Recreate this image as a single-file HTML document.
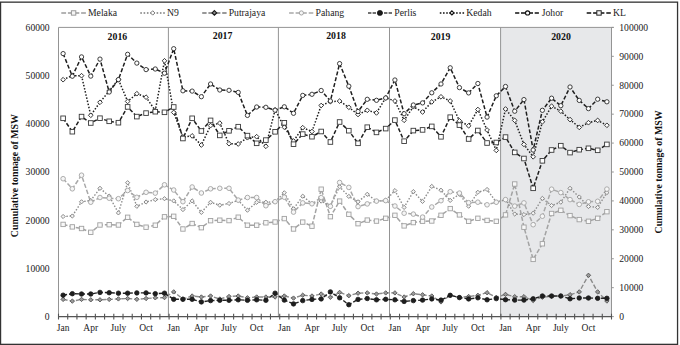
<!DOCTYPE html><html><head><meta charset="utf-8"><style>html,body{margin:0;padding:0;background:#fff;}svg{display:block;font-family:"Liberation Serif", serif;}</style></head><body>
<svg width="680" height="345" viewBox="0 0 680 345">
<rect x="500.60" y="27.4" width="110.90" height="289.20" fill="#e7e8ea"/>
<line x1="58.5" y1="27.4" x2="613.7" y2="27.4" stroke="#949494" stroke-width="1"/>
<line x1="58.5" y1="27.4" x2="58.5" y2="316.6" stroke="#949494" stroke-width="1"/>
<line x1="168.4" y1="27.4" x2="168.4" y2="316.6" stroke="#949494" stroke-width="1"/>
<line x1="278.4" y1="27.4" x2="278.4" y2="316.6" stroke="#949494" stroke-width="1"/>
<line x1="389.5" y1="27.4" x2="389.5" y2="316.6" stroke="#949494" stroke-width="1"/>
<line x1="500.6" y1="27.4" x2="500.6" y2="316.6" stroke="#949494" stroke-width="1"/>
<line x1="611.5" y1="27.4" x2="611.5" y2="316.6" stroke="#949494" stroke-width="1"/>
<line x1="611.5" y1="316.60" x2="613.80" y2="316.60" stroke="#949494" stroke-width="1"/>
<line x1="611.5" y1="287.68" x2="613.80" y2="287.68" stroke="#949494" stroke-width="1"/>
<line x1="611.5" y1="258.76" x2="613.80" y2="258.76" stroke="#949494" stroke-width="1"/>
<line x1="611.5" y1="229.84" x2="613.80" y2="229.84" stroke="#949494" stroke-width="1"/>
<line x1="611.5" y1="200.92" x2="613.80" y2="200.92" stroke="#949494" stroke-width="1"/>
<line x1="611.5" y1="172.00" x2="613.80" y2="172.00" stroke="#949494" stroke-width="1"/>
<line x1="611.5" y1="143.08" x2="613.80" y2="143.08" stroke="#949494" stroke-width="1"/>
<line x1="611.5" y1="114.16" x2="613.80" y2="114.16" stroke="#949494" stroke-width="1"/>
<line x1="611.5" y1="85.24" x2="613.80" y2="85.24" stroke="#949494" stroke-width="1"/>
<line x1="611.5" y1="56.32" x2="613.80" y2="56.32" stroke="#949494" stroke-width="1"/>
<line x1="611.5" y1="27.40" x2="613.80" y2="27.40" stroke="#949494" stroke-width="1"/>
<line x1="58.5" y1="316.6" x2="611.5" y2="316.6" stroke="#555" stroke-width="1.3"/>
<line x1="58.50" y1="313.70" x2="58.50" y2="319.50" stroke="#555" stroke-width="1.1"/>
<line x1="67.72" y1="313.70" x2="67.72" y2="319.50" stroke="#555" stroke-width="1.1"/>
<line x1="76.93" y1="313.70" x2="76.93" y2="319.50" stroke="#555" stroke-width="1.1"/>
<line x1="86.15" y1="313.70" x2="86.15" y2="319.50" stroke="#555" stroke-width="1.1"/>
<line x1="95.37" y1="313.70" x2="95.37" y2="319.50" stroke="#555" stroke-width="1.1"/>
<line x1="104.58" y1="313.70" x2="104.58" y2="319.50" stroke="#555" stroke-width="1.1"/>
<line x1="113.80" y1="313.70" x2="113.80" y2="319.50" stroke="#555" stroke-width="1.1"/>
<line x1="123.02" y1="313.70" x2="123.02" y2="319.50" stroke="#555" stroke-width="1.1"/>
<line x1="132.23" y1="313.70" x2="132.23" y2="319.50" stroke="#555" stroke-width="1.1"/>
<line x1="141.45" y1="313.70" x2="141.45" y2="319.50" stroke="#555" stroke-width="1.1"/>
<line x1="150.67" y1="313.70" x2="150.67" y2="319.50" stroke="#555" stroke-width="1.1"/>
<line x1="159.88" y1="313.70" x2="159.88" y2="319.50" stroke="#555" stroke-width="1.1"/>
<line x1="169.10" y1="313.70" x2="169.10" y2="319.50" stroke="#555" stroke-width="1.1"/>
<line x1="178.32" y1="313.70" x2="178.32" y2="319.50" stroke="#555" stroke-width="1.1"/>
<line x1="187.53" y1="313.70" x2="187.53" y2="319.50" stroke="#555" stroke-width="1.1"/>
<line x1="196.75" y1="313.70" x2="196.75" y2="319.50" stroke="#555" stroke-width="1.1"/>
<line x1="205.97" y1="313.70" x2="205.97" y2="319.50" stroke="#555" stroke-width="1.1"/>
<line x1="215.18" y1="313.70" x2="215.18" y2="319.50" stroke="#555" stroke-width="1.1"/>
<line x1="224.40" y1="313.70" x2="224.40" y2="319.50" stroke="#555" stroke-width="1.1"/>
<line x1="233.62" y1="313.70" x2="233.62" y2="319.50" stroke="#555" stroke-width="1.1"/>
<line x1="242.83" y1="313.70" x2="242.83" y2="319.50" stroke="#555" stroke-width="1.1"/>
<line x1="252.05" y1="313.70" x2="252.05" y2="319.50" stroke="#555" stroke-width="1.1"/>
<line x1="261.27" y1="313.70" x2="261.27" y2="319.50" stroke="#555" stroke-width="1.1"/>
<line x1="270.48" y1="313.70" x2="270.48" y2="319.50" stroke="#555" stroke-width="1.1"/>
<line x1="279.70" y1="313.70" x2="279.70" y2="319.50" stroke="#555" stroke-width="1.1"/>
<line x1="288.92" y1="313.70" x2="288.92" y2="319.50" stroke="#555" stroke-width="1.1"/>
<line x1="298.13" y1="313.70" x2="298.13" y2="319.50" stroke="#555" stroke-width="1.1"/>
<line x1="307.35" y1="313.70" x2="307.35" y2="319.50" stroke="#555" stroke-width="1.1"/>
<line x1="316.57" y1="313.70" x2="316.57" y2="319.50" stroke="#555" stroke-width="1.1"/>
<line x1="325.78" y1="313.70" x2="325.78" y2="319.50" stroke="#555" stroke-width="1.1"/>
<line x1="335.00" y1="313.70" x2="335.00" y2="319.50" stroke="#555" stroke-width="1.1"/>
<line x1="344.22" y1="313.70" x2="344.22" y2="319.50" stroke="#555" stroke-width="1.1"/>
<line x1="353.43" y1="313.70" x2="353.43" y2="319.50" stroke="#555" stroke-width="1.1"/>
<line x1="362.65" y1="313.70" x2="362.65" y2="319.50" stroke="#555" stroke-width="1.1"/>
<line x1="371.87" y1="313.70" x2="371.87" y2="319.50" stroke="#555" stroke-width="1.1"/>
<line x1="381.08" y1="313.70" x2="381.08" y2="319.50" stroke="#555" stroke-width="1.1"/>
<line x1="390.30" y1="313.70" x2="390.30" y2="319.50" stroke="#555" stroke-width="1.1"/>
<line x1="399.52" y1="313.70" x2="399.52" y2="319.50" stroke="#555" stroke-width="1.1"/>
<line x1="408.73" y1="313.70" x2="408.73" y2="319.50" stroke="#555" stroke-width="1.1"/>
<line x1="417.95" y1="313.70" x2="417.95" y2="319.50" stroke="#555" stroke-width="1.1"/>
<line x1="427.17" y1="313.70" x2="427.17" y2="319.50" stroke="#555" stroke-width="1.1"/>
<line x1="436.38" y1="313.70" x2="436.38" y2="319.50" stroke="#555" stroke-width="1.1"/>
<line x1="445.60" y1="313.70" x2="445.60" y2="319.50" stroke="#555" stroke-width="1.1"/>
<line x1="454.82" y1="313.70" x2="454.82" y2="319.50" stroke="#555" stroke-width="1.1"/>
<line x1="464.03" y1="313.70" x2="464.03" y2="319.50" stroke="#555" stroke-width="1.1"/>
<line x1="473.25" y1="313.70" x2="473.25" y2="319.50" stroke="#555" stroke-width="1.1"/>
<line x1="482.47" y1="313.70" x2="482.47" y2="319.50" stroke="#555" stroke-width="1.1"/>
<line x1="491.68" y1="313.70" x2="491.68" y2="319.50" stroke="#555" stroke-width="1.1"/>
<line x1="500.90" y1="313.70" x2="500.90" y2="319.50" stroke="#555" stroke-width="1.1"/>
<line x1="510.12" y1="313.70" x2="510.12" y2="319.50" stroke="#555" stroke-width="1.1"/>
<line x1="519.33" y1="313.70" x2="519.33" y2="319.50" stroke="#555" stroke-width="1.1"/>
<line x1="528.55" y1="313.70" x2="528.55" y2="319.50" stroke="#555" stroke-width="1.1"/>
<line x1="537.77" y1="313.70" x2="537.77" y2="319.50" stroke="#555" stroke-width="1.1"/>
<line x1="546.98" y1="313.70" x2="546.98" y2="319.50" stroke="#555" stroke-width="1.1"/>
<line x1="556.20" y1="313.70" x2="556.20" y2="319.50" stroke="#555" stroke-width="1.1"/>
<line x1="565.42" y1="313.70" x2="565.42" y2="319.50" stroke="#555" stroke-width="1.1"/>
<line x1="574.63" y1="313.70" x2="574.63" y2="319.50" stroke="#555" stroke-width="1.1"/>
<line x1="583.85" y1="313.70" x2="583.85" y2="319.50" stroke="#555" stroke-width="1.1"/>
<line x1="593.07" y1="313.70" x2="593.07" y2="319.50" stroke="#555" stroke-width="1.1"/>
<line x1="602.28" y1="313.70" x2="602.28" y2="319.50" stroke="#555" stroke-width="1.1"/>
<line x1="611.50" y1="313.70" x2="611.50" y2="319.50" stroke="#555" stroke-width="1.1"/>
<path d="M63.11 224.40L72.33 226.90L81.54 228.50L90.76 232.30L99.97 225.00L109.19 224.70L118.41 225.00L127.62 217.30L136.84 224.40L146.06 227.20L155.28 225.20L164.49 216.80L173.71 216.30L182.93 229.00L192.14 223.50L201.36 227.70L210.57 220.70L219.79 220.20L229.01 220.60L238.22 217.20L247.44 225.20L256.66 225.20L265.88 222.80L275.09 222.00L284.31 218.60L293.52 229.00L302.74 222.10L311.96 226.20L321.18 189.20L330.39 216.70L339.61 201.10L348.82 214.30L358.04 223.70L367.26 220.10L376.48 221.10L385.69 218.30L394.91 215.30L404.12 225.90L413.34 222.60L422.56 221.20L431.77 221.00L440.99 215.30L450.21 208.60L459.43 214.90L468.64 221.30L477.86 218.30L487.07 220.40L496.29 221.30L505.51 214.90L514.73 184.00L523.94 227.20L533.16 259.40L542.38 243.80L551.59 213.50L560.81 210.30L570.03 215.60L579.24 219.60L588.46 221.30L597.67 218.30L606.89 211.70" fill="none" stroke="#a3a3a3" stroke-width="1.5" stroke-dasharray="4.5 2"/>
<path d="M63.11 216.50L72.33 216.00L81.54 201.80L90.76 200.50L99.97 188.30L109.19 196.10L118.41 212.90L127.62 182.70L136.84 206.30L146.06 202.00L155.28 199.60L164.49 198.70L173.71 200.90L182.93 209.60L192.14 200.90L201.36 212.40L210.57 202.30L219.79 205.20L229.01 203.50L238.22 200.30L247.44 210.20L256.66 202.30L265.88 202.20L275.09 201.80L284.31 192.80L293.52 208.80L302.74 196.20L311.96 203.70L321.18 201.10L330.39 206.00L339.61 186.80L348.82 196.40L358.04 201.80L367.26 194.30L376.48 201.00L385.69 200.20L394.91 190.60L404.12 207.40L413.34 191.60L422.56 201.40L431.77 186.40L440.99 190.20L450.21 200.40L459.43 194.30L468.64 206.20L477.86 192.30L487.07 189.50L496.29 202.20L505.51 199.80L514.73 214.00L523.94 214.60L533.16 213.20L542.38 198.40L551.59 205.50L560.81 202.20L570.03 188.30L579.24 197.00L588.46 206.50L597.67 207.40L606.89 192.60" fill="none" stroke="#8e8e8e" stroke-width="1.4" stroke-dasharray="1.5 1.7"/>
<path d="M63.11 299.40L72.33 301.10L81.54 299.40L90.76 299.80L99.97 299.80L109.19 299.40L118.41 298.90L127.62 298.50L136.84 299.30L146.06 298.50L155.28 297.80L164.49 297.60L173.71 291.90L182.93 299.00L192.14 296.00L201.36 297.00L210.57 296.00L219.79 299.00L229.01 296.50L238.22 296.00L247.44 297.80L256.66 297.00L265.88 297.00L275.09 297.00L284.31 296.00L293.52 298.10L302.74 295.20L311.96 296.00L321.18 294.00L330.39 297.30L339.61 292.40L348.82 295.70L358.04 293.20L367.26 292.90L376.48 294.00L385.69 292.90L394.91 292.90L404.12 297.00L413.34 293.70L422.56 294.80L431.77 296.00L440.99 301.90L450.21 295.30L459.43 297.30L468.64 296.50L477.86 295.30L487.07 292.70L496.29 297.30L505.51 294.40L514.73 296.70L523.94 296.70L533.16 300.50L542.38 297.20L551.59 296.40L560.81 296.00L570.03 294.70L579.24 291.90L588.46 275.30L597.67 291.90L606.89 301.00" fill="none" stroke="#8a8a8a" stroke-width="1.4" stroke-dasharray="4.5 2"/>
<path d="M63.11 178.70L72.33 188.80L81.54 175.20L90.76 202.20L99.97 197.50L109.19 198.20L118.41 198.70L127.62 190.50L136.84 197.30L146.06 192.30L155.28 193.10L164.49 184.80L173.71 190.00L182.93 201.70L192.14 187.00L201.36 193.00L210.57 188.80L219.79 188.30L229.01 188.30L238.22 200.10L247.44 197.50L256.66 197.50L265.88 205.70L275.09 201.70L284.31 197.20L293.52 212.10L302.74 202.90L311.96 203.80L321.18 197.60L330.39 206.30L339.61 182.50L348.82 187.40L358.04 206.60L367.26 203.90L376.48 201.10L385.69 200.60L394.91 206.00L404.12 213.20L413.34 214.10L422.56 217.10L431.77 207.00L440.99 200.70L450.21 191.70L459.43 193.10L468.64 202.70L477.86 202.20L487.07 204.80L496.29 202.20L505.51 199.60L514.73 206.10L523.94 202.90L533.16 224.70L542.38 216.20L551.59 189.20L560.81 192.60L570.03 199.60L579.24 204.40L588.46 201.80L597.67 201.30L606.89 189.10" fill="none" stroke="#a8a8a8" stroke-width="1.5" stroke-dasharray="4.5 2"/>
<path d="M63.11 295.20L72.33 293.70L81.54 294.00L90.76 294.00L99.97 292.40L109.19 292.70L118.41 293.20L127.62 293.20L136.84 292.90L146.06 292.90L155.28 293.70L164.49 293.20L173.71 299.30L182.93 299.30L192.14 299.30L201.36 301.90L210.57 300.60L219.79 300.30L229.01 300.30L238.22 299.80L247.44 300.30L256.66 299.80L265.88 300.30L275.09 293.20L284.31 300.10L293.52 303.90L302.74 300.60L311.96 299.40L321.18 298.90L330.39 291.90L339.61 297.80L348.82 304.70L358.04 299.40L367.26 298.50L376.48 299.80L385.69 299.30L394.91 299.80L404.12 301.40L413.34 300.60L422.56 300.10L431.77 298.90L440.99 300.10L450.21 295.30L459.43 297.60L468.64 298.90L477.86 297.80L487.07 299.80L496.29 298.60L505.51 299.70L514.73 300.10L523.94 300.10L533.16 298.80L542.38 296.00L551.59 296.00L560.81 296.00L570.03 298.80L579.24 298.00L588.46 298.00L597.67 298.30L606.89 298.30" fill="none" stroke="#222" stroke-width="1.4" stroke-dasharray="4 2"/>
<path d="M63.11 79.70L72.33 75.60L81.54 75.70L90.76 115.30L99.97 102.30L109.19 91.00L118.41 79.50L127.62 101.40L136.84 93.70L146.06 97.20L155.28 110.50L164.49 60.80L173.71 112.40L182.93 137.00L192.14 135.90L201.36 145.00L210.57 125.60L219.79 123.10L229.01 143.70L238.22 144.00L247.44 137.70L256.66 136.70L265.88 146.30L275.09 109.80L284.31 127.20L293.52 141.10L302.74 127.70L311.96 131.50L321.18 105.50L330.39 101.60L339.61 101.10L348.82 107.30L358.04 114.50L367.26 110.30L376.48 112.90L385.69 97.80L394.91 101.00L404.12 120.30L413.34 106.70L422.56 112.00L431.77 101.90L440.99 96.80L450.21 101.00L459.43 120.80L468.64 125.80L477.86 109.50L487.07 130.00L496.29 150.40L505.51 109.00L514.73 120.40L523.94 144.40L533.16 156.80L542.38 121.80L551.59 106.20L560.81 111.20L570.03 119.60L579.24 127.40L588.46 122.70L597.67 120.40L606.89 125.30" fill="none" stroke="#1e1e1e" stroke-width="1.5" stroke-dasharray="1.5 1.7"/>
<path d="M63.11 53.60L72.33 76.20L81.54 56.90L90.76 76.10L99.97 59.10L109.19 92.00L118.41 79.60L127.62 54.30L136.84 63.10L146.06 69.60L155.28 69.00L164.49 73.20L173.71 48.70L182.93 90.80L192.14 91.10L201.36 96.70L210.57 84.00L219.79 90.00L229.01 90.30L238.22 92.40L247.44 115.40L256.66 107.00L265.88 107.30L275.09 110.20L284.31 106.80L293.52 113.30L302.74 95.40L311.96 94.30L321.18 90.50L330.39 101.00L339.61 63.60L348.82 86.20L358.04 111.50L367.26 99.30L376.48 100.30L385.69 98.00L394.91 80.00L404.12 113.70L413.34 105.00L422.56 102.90L431.77 92.80L440.99 84.00L450.21 67.80L459.43 87.60L468.64 92.90L477.86 83.50L487.07 117.10L496.29 95.80L505.51 86.50L514.73 111.20L523.94 99.60L533.16 150.00L542.38 110.30L551.59 98.20L560.81 105.70L570.03 87.00L579.24 100.40L588.46 108.60L597.67 99.20L606.89 101.80" fill="none" stroke="#1e1e1e" stroke-width="1.5" stroke-dasharray="4 2"/>
<path d="M63.11 118.30L72.33 131.70L81.54 116.60L90.76 123.00L99.97 118.20L109.19 121.30L118.41 122.70L127.62 106.90L136.84 116.60L146.06 113.10L155.28 111.70L164.49 112.30L173.71 107.00L182.93 138.50L192.14 118.30L201.36 131.00L210.57 120.40L219.79 135.40L229.01 130.80L238.22 126.70L247.44 135.60L256.66 143.30L265.88 140.10L275.09 131.80L284.31 122.80L293.52 144.20L302.74 134.10L311.96 136.70L321.18 131.50L330.39 142.00L339.61 122.00L348.82 130.70L358.04 143.30L367.26 127.20L376.48 132.40L385.69 128.60L394.91 120.10L404.12 141.20L413.34 130.60L422.56 129.90L431.77 126.40L440.99 136.80L450.21 117.20L459.43 125.10L468.64 139.00L477.86 130.50L487.07 143.00L496.29 142.50L505.51 137.10L514.73 152.40L523.94 158.50L533.16 188.30L542.38 160.80L551.59 150.00L560.81 145.70L570.03 152.60L579.24 149.70L588.46 148.30L597.67 150.30L606.89 144.40" fill="none" stroke="#1e1e1e" stroke-width="1.5" stroke-dasharray="4 2"/>
<rect x="60.91" y="222.20" width="4.40" height="4.40" fill="#f8f8f8" stroke="#a0a0a0" stroke-width="0.9"/>
<rect x="70.12" y="224.70" width="4.40" height="4.40" fill="#f8f8f8" stroke="#a0a0a0" stroke-width="0.9"/>
<rect x="79.34" y="226.30" width="4.40" height="4.40" fill="#f8f8f8" stroke="#a0a0a0" stroke-width="0.9"/>
<rect x="88.56" y="230.10" width="4.40" height="4.40" fill="#f8f8f8" stroke="#a0a0a0" stroke-width="0.9"/>
<rect x="97.77" y="222.80" width="4.40" height="4.40" fill="#f8f8f8" stroke="#a0a0a0" stroke-width="0.9"/>
<rect x="106.99" y="222.50" width="4.40" height="4.40" fill="#f8f8f8" stroke="#a0a0a0" stroke-width="0.9"/>
<rect x="116.21" y="222.80" width="4.40" height="4.40" fill="#f8f8f8" stroke="#a0a0a0" stroke-width="0.9"/>
<rect x="125.42" y="215.10" width="4.40" height="4.40" fill="#f8f8f8" stroke="#a0a0a0" stroke-width="0.9"/>
<rect x="134.64" y="222.20" width="4.40" height="4.40" fill="#f8f8f8" stroke="#a0a0a0" stroke-width="0.9"/>
<rect x="143.86" y="225.00" width="4.40" height="4.40" fill="#f8f8f8" stroke="#a0a0a0" stroke-width="0.9"/>
<rect x="153.08" y="223.00" width="4.40" height="4.40" fill="#f8f8f8" stroke="#a0a0a0" stroke-width="0.9"/>
<rect x="162.29" y="214.60" width="4.40" height="4.40" fill="#f8f8f8" stroke="#a0a0a0" stroke-width="0.9"/>
<rect x="171.51" y="214.10" width="4.40" height="4.40" fill="#f8f8f8" stroke="#a0a0a0" stroke-width="0.9"/>
<rect x="180.73" y="226.80" width="4.40" height="4.40" fill="#f8f8f8" stroke="#a0a0a0" stroke-width="0.9"/>
<rect x="189.94" y="221.30" width="4.40" height="4.40" fill="#f8f8f8" stroke="#a0a0a0" stroke-width="0.9"/>
<rect x="199.16" y="225.50" width="4.40" height="4.40" fill="#f8f8f8" stroke="#a0a0a0" stroke-width="0.9"/>
<rect x="208.38" y="218.50" width="4.40" height="4.40" fill="#f8f8f8" stroke="#a0a0a0" stroke-width="0.9"/>
<rect x="217.59" y="218.00" width="4.40" height="4.40" fill="#f8f8f8" stroke="#a0a0a0" stroke-width="0.9"/>
<rect x="226.81" y="218.40" width="4.40" height="4.40" fill="#f8f8f8" stroke="#a0a0a0" stroke-width="0.9"/>
<rect x="236.03" y="215.00" width="4.40" height="4.40" fill="#f8f8f8" stroke="#a0a0a0" stroke-width="0.9"/>
<rect x="245.24" y="223.00" width="4.40" height="4.40" fill="#f8f8f8" stroke="#a0a0a0" stroke-width="0.9"/>
<rect x="254.46" y="223.00" width="4.40" height="4.40" fill="#f8f8f8" stroke="#a0a0a0" stroke-width="0.9"/>
<rect x="263.68" y="220.60" width="4.40" height="4.40" fill="#f8f8f8" stroke="#a0a0a0" stroke-width="0.9"/>
<rect x="272.89" y="219.80" width="4.40" height="4.40" fill="#f8f8f8" stroke="#a0a0a0" stroke-width="0.9"/>
<rect x="282.11" y="216.40" width="4.40" height="4.40" fill="#f8f8f8" stroke="#a0a0a0" stroke-width="0.9"/>
<rect x="291.32" y="226.80" width="4.40" height="4.40" fill="#f8f8f8" stroke="#a0a0a0" stroke-width="0.9"/>
<rect x="300.54" y="219.90" width="4.40" height="4.40" fill="#f8f8f8" stroke="#a0a0a0" stroke-width="0.9"/>
<rect x="309.76" y="224.00" width="4.40" height="4.40" fill="#f8f8f8" stroke="#a0a0a0" stroke-width="0.9"/>
<rect x="318.98" y="187.00" width="4.40" height="4.40" fill="#f8f8f8" stroke="#a0a0a0" stroke-width="0.9"/>
<rect x="328.19" y="214.50" width="4.40" height="4.40" fill="#f8f8f8" stroke="#a0a0a0" stroke-width="0.9"/>
<rect x="337.41" y="198.90" width="4.40" height="4.40" fill="#f8f8f8" stroke="#a0a0a0" stroke-width="0.9"/>
<rect x="346.62" y="212.10" width="4.40" height="4.40" fill="#f8f8f8" stroke="#a0a0a0" stroke-width="0.9"/>
<rect x="355.84" y="221.50" width="4.40" height="4.40" fill="#f8f8f8" stroke="#a0a0a0" stroke-width="0.9"/>
<rect x="365.06" y="217.90" width="4.40" height="4.40" fill="#f8f8f8" stroke="#a0a0a0" stroke-width="0.9"/>
<rect x="374.28" y="218.90" width="4.40" height="4.40" fill="#f8f8f8" stroke="#a0a0a0" stroke-width="0.9"/>
<rect x="383.49" y="216.10" width="4.40" height="4.40" fill="#f8f8f8" stroke="#a0a0a0" stroke-width="0.9"/>
<rect x="392.71" y="213.10" width="4.40" height="4.40" fill="#f8f8f8" stroke="#a0a0a0" stroke-width="0.9"/>
<rect x="401.93" y="223.70" width="4.40" height="4.40" fill="#f8f8f8" stroke="#a0a0a0" stroke-width="0.9"/>
<rect x="411.14" y="220.40" width="4.40" height="4.40" fill="#f8f8f8" stroke="#a0a0a0" stroke-width="0.9"/>
<rect x="420.36" y="219.00" width="4.40" height="4.40" fill="#f8f8f8" stroke="#a0a0a0" stroke-width="0.9"/>
<rect x="429.57" y="218.80" width="4.40" height="4.40" fill="#f8f8f8" stroke="#a0a0a0" stroke-width="0.9"/>
<rect x="438.79" y="213.10" width="4.40" height="4.40" fill="#f8f8f8" stroke="#a0a0a0" stroke-width="0.9"/>
<rect x="448.01" y="206.40" width="4.40" height="4.40" fill="#f8f8f8" stroke="#a0a0a0" stroke-width="0.9"/>
<rect x="457.23" y="212.70" width="4.40" height="4.40" fill="#f8f8f8" stroke="#a0a0a0" stroke-width="0.9"/>
<rect x="466.44" y="219.10" width="4.40" height="4.40" fill="#f8f8f8" stroke="#a0a0a0" stroke-width="0.9"/>
<rect x="475.66" y="216.10" width="4.40" height="4.40" fill="#f8f8f8" stroke="#a0a0a0" stroke-width="0.9"/>
<rect x="484.88" y="218.20" width="4.40" height="4.40" fill="#f8f8f8" stroke="#a0a0a0" stroke-width="0.9"/>
<rect x="494.09" y="219.10" width="4.40" height="4.40" fill="#f8f8f8" stroke="#a0a0a0" stroke-width="0.9"/>
<rect x="503.31" y="212.70" width="4.40" height="4.40" fill="#f8f8f8" stroke="#a0a0a0" stroke-width="0.9"/>
<rect x="512.52" y="181.80" width="4.40" height="4.40" fill="#f8f8f8" stroke="#a0a0a0" stroke-width="0.9"/>
<rect x="521.74" y="225.00" width="4.40" height="4.40" fill="#f8f8f8" stroke="#a0a0a0" stroke-width="0.9"/>
<rect x="530.96" y="257.20" width="4.40" height="4.40" fill="#f8f8f8" stroke="#a0a0a0" stroke-width="0.9"/>
<rect x="540.17" y="241.60" width="4.40" height="4.40" fill="#f8f8f8" stroke="#a0a0a0" stroke-width="0.9"/>
<rect x="549.39" y="211.30" width="4.40" height="4.40" fill="#f8f8f8" stroke="#a0a0a0" stroke-width="0.9"/>
<rect x="558.61" y="208.10" width="4.40" height="4.40" fill="#f8f8f8" stroke="#a0a0a0" stroke-width="0.9"/>
<rect x="567.83" y="213.40" width="4.40" height="4.40" fill="#f8f8f8" stroke="#a0a0a0" stroke-width="0.9"/>
<rect x="577.04" y="217.40" width="4.40" height="4.40" fill="#f8f8f8" stroke="#a0a0a0" stroke-width="0.9"/>
<rect x="586.26" y="219.10" width="4.40" height="4.40" fill="#f8f8f8" stroke="#a0a0a0" stroke-width="0.9"/>
<rect x="595.47" y="216.10" width="4.40" height="4.40" fill="#f8f8f8" stroke="#a0a0a0" stroke-width="0.9"/>
<rect x="604.69" y="209.50" width="4.40" height="4.40" fill="#f8f8f8" stroke="#a0a0a0" stroke-width="0.9"/>
<path d="M63.11 214.40L65.21 216.50L63.11 218.60L61.01 216.50Z" fill="#f4f4f4" stroke="#7e7e7e" stroke-width="0.9"/>
<path d="M72.33 213.90L74.42 216.00L72.33 218.10L70.23 216.00Z" fill="#f4f4f4" stroke="#7e7e7e" stroke-width="0.9"/>
<path d="M81.54 199.70L83.64 201.80L81.54 203.90L79.44 201.80Z" fill="#f4f4f4" stroke="#7e7e7e" stroke-width="0.9"/>
<path d="M90.76 198.40L92.86 200.50L90.76 202.60L88.66 200.50Z" fill="#f4f4f4" stroke="#7e7e7e" stroke-width="0.9"/>
<path d="M99.97 186.20L102.07 188.30L99.97 190.40L97.88 188.30Z" fill="#f4f4f4" stroke="#7e7e7e" stroke-width="0.9"/>
<path d="M109.19 194.00L111.29 196.10L109.19 198.20L107.09 196.10Z" fill="#f4f4f4" stroke="#7e7e7e" stroke-width="0.9"/>
<path d="M118.41 210.80L120.51 212.90L118.41 215.00L116.31 212.90Z" fill="#f4f4f4" stroke="#7e7e7e" stroke-width="0.9"/>
<path d="M127.62 180.60L129.72 182.70L127.62 184.80L125.53 182.70Z" fill="#f4f4f4" stroke="#7e7e7e" stroke-width="0.9"/>
<path d="M136.84 204.20L138.94 206.30L136.84 208.40L134.74 206.30Z" fill="#f4f4f4" stroke="#7e7e7e" stroke-width="0.9"/>
<path d="M146.06 199.90L148.16 202.00L146.06 204.10L143.96 202.00Z" fill="#f4f4f4" stroke="#7e7e7e" stroke-width="0.9"/>
<path d="M155.28 197.50L157.38 199.60L155.28 201.70L153.18 199.60Z" fill="#f4f4f4" stroke="#7e7e7e" stroke-width="0.9"/>
<path d="M164.49 196.60L166.59 198.70L164.49 200.80L162.39 198.70Z" fill="#f4f4f4" stroke="#7e7e7e" stroke-width="0.9"/>
<path d="M173.71 198.80L175.81 200.90L173.71 203.00L171.61 200.90Z" fill="#f4f4f4" stroke="#7e7e7e" stroke-width="0.9"/>
<path d="M182.93 207.50L185.03 209.60L182.93 211.70L180.83 209.60Z" fill="#f4f4f4" stroke="#7e7e7e" stroke-width="0.9"/>
<path d="M192.14 198.80L194.24 200.90L192.14 203.00L190.04 200.90Z" fill="#f4f4f4" stroke="#7e7e7e" stroke-width="0.9"/>
<path d="M201.36 210.30L203.46 212.40L201.36 214.50L199.26 212.40Z" fill="#f4f4f4" stroke="#7e7e7e" stroke-width="0.9"/>
<path d="M210.57 200.20L212.67 202.30L210.57 204.40L208.47 202.30Z" fill="#f4f4f4" stroke="#7e7e7e" stroke-width="0.9"/>
<path d="M219.79 203.10L221.89 205.20L219.79 207.30L217.69 205.20Z" fill="#f4f4f4" stroke="#7e7e7e" stroke-width="0.9"/>
<path d="M229.01 201.40L231.11 203.50L229.01 205.60L226.91 203.50Z" fill="#f4f4f4" stroke="#7e7e7e" stroke-width="0.9"/>
<path d="M238.22 198.20L240.32 200.30L238.22 202.40L236.12 200.30Z" fill="#f4f4f4" stroke="#7e7e7e" stroke-width="0.9"/>
<path d="M247.44 208.10L249.54 210.20L247.44 212.30L245.34 210.20Z" fill="#f4f4f4" stroke="#7e7e7e" stroke-width="0.9"/>
<path d="M256.66 200.20L258.76 202.30L256.66 204.40L254.56 202.30Z" fill="#f4f4f4" stroke="#7e7e7e" stroke-width="0.9"/>
<path d="M265.88 200.10L267.98 202.20L265.88 204.30L263.77 202.20Z" fill="#f4f4f4" stroke="#7e7e7e" stroke-width="0.9"/>
<path d="M275.09 199.70L277.19 201.80L275.09 203.90L272.99 201.80Z" fill="#f4f4f4" stroke="#7e7e7e" stroke-width="0.9"/>
<path d="M284.31 190.70L286.41 192.80L284.31 194.90L282.21 192.80Z" fill="#f4f4f4" stroke="#7e7e7e" stroke-width="0.9"/>
<path d="M293.52 206.70L295.62 208.80L293.52 210.90L291.42 208.80Z" fill="#f4f4f4" stroke="#7e7e7e" stroke-width="0.9"/>
<path d="M302.74 194.10L304.84 196.20L302.74 198.30L300.64 196.20Z" fill="#f4f4f4" stroke="#7e7e7e" stroke-width="0.9"/>
<path d="M311.96 201.60L314.06 203.70L311.96 205.80L309.86 203.70Z" fill="#f4f4f4" stroke="#7e7e7e" stroke-width="0.9"/>
<path d="M321.18 199.00L323.28 201.10L321.18 203.20L319.07 201.10Z" fill="#f4f4f4" stroke="#7e7e7e" stroke-width="0.9"/>
<path d="M330.39 203.90L332.49 206.00L330.39 208.10L328.29 206.00Z" fill="#f4f4f4" stroke="#7e7e7e" stroke-width="0.9"/>
<path d="M339.61 184.70L341.71 186.80L339.61 188.90L337.51 186.80Z" fill="#f4f4f4" stroke="#7e7e7e" stroke-width="0.9"/>
<path d="M348.82 194.30L350.93 196.40L348.82 198.50L346.72 196.40Z" fill="#f4f4f4" stroke="#7e7e7e" stroke-width="0.9"/>
<path d="M358.04 199.70L360.14 201.80L358.04 203.90L355.94 201.80Z" fill="#f4f4f4" stroke="#7e7e7e" stroke-width="0.9"/>
<path d="M367.26 192.20L369.36 194.30L367.26 196.40L365.16 194.30Z" fill="#f4f4f4" stroke="#7e7e7e" stroke-width="0.9"/>
<path d="M376.48 198.90L378.58 201.00L376.48 203.10L374.38 201.00Z" fill="#f4f4f4" stroke="#7e7e7e" stroke-width="0.9"/>
<path d="M385.69 198.10L387.79 200.20L385.69 202.30L383.59 200.20Z" fill="#f4f4f4" stroke="#7e7e7e" stroke-width="0.9"/>
<path d="M394.91 188.50L397.01 190.60L394.91 192.70L392.81 190.60Z" fill="#f4f4f4" stroke="#7e7e7e" stroke-width="0.9"/>
<path d="M404.12 205.30L406.23 207.40L404.12 209.50L402.02 207.40Z" fill="#f4f4f4" stroke="#7e7e7e" stroke-width="0.9"/>
<path d="M413.34 189.50L415.44 191.60L413.34 193.70L411.24 191.60Z" fill="#f4f4f4" stroke="#7e7e7e" stroke-width="0.9"/>
<path d="M422.56 199.30L424.66 201.40L422.56 203.50L420.46 201.40Z" fill="#f4f4f4" stroke="#7e7e7e" stroke-width="0.9"/>
<path d="M431.77 184.30L433.88 186.40L431.77 188.50L429.67 186.40Z" fill="#f4f4f4" stroke="#7e7e7e" stroke-width="0.9"/>
<path d="M440.99 188.10L443.09 190.20L440.99 192.30L438.89 190.20Z" fill="#f4f4f4" stroke="#7e7e7e" stroke-width="0.9"/>
<path d="M450.21 198.30L452.31 200.40L450.21 202.50L448.11 200.40Z" fill="#f4f4f4" stroke="#7e7e7e" stroke-width="0.9"/>
<path d="M459.43 192.20L461.53 194.30L459.43 196.40L457.32 194.30Z" fill="#f4f4f4" stroke="#7e7e7e" stroke-width="0.9"/>
<path d="M468.64 204.10L470.74 206.20L468.64 208.30L466.54 206.20Z" fill="#f4f4f4" stroke="#7e7e7e" stroke-width="0.9"/>
<path d="M477.86 190.20L479.96 192.30L477.86 194.40L475.76 192.30Z" fill="#f4f4f4" stroke="#7e7e7e" stroke-width="0.9"/>
<path d="M487.07 187.40L489.18 189.50L487.07 191.60L484.97 189.50Z" fill="#f4f4f4" stroke="#7e7e7e" stroke-width="0.9"/>
<path d="M496.29 200.10L498.39 202.20L496.29 204.30L494.19 202.20Z" fill="#f4f4f4" stroke="#7e7e7e" stroke-width="0.9"/>
<path d="M505.51 197.70L507.61 199.80L505.51 201.90L503.41 199.80Z" fill="#f4f4f4" stroke="#7e7e7e" stroke-width="0.9"/>
<path d="M514.73 211.90L516.83 214.00L514.73 216.10L512.62 214.00Z" fill="#f4f4f4" stroke="#7e7e7e" stroke-width="0.9"/>
<path d="M523.94 212.50L526.04 214.60L523.94 216.70L521.84 214.60Z" fill="#f4f4f4" stroke="#7e7e7e" stroke-width="0.9"/>
<path d="M533.16 211.10L535.26 213.20L533.16 215.30L531.06 213.20Z" fill="#f4f4f4" stroke="#7e7e7e" stroke-width="0.9"/>
<path d="M542.38 196.30L544.48 198.40L542.38 200.50L540.27 198.40Z" fill="#f4f4f4" stroke="#7e7e7e" stroke-width="0.9"/>
<path d="M551.59 203.40L553.69 205.50L551.59 207.60L549.49 205.50Z" fill="#f4f4f4" stroke="#7e7e7e" stroke-width="0.9"/>
<path d="M560.81 200.10L562.91 202.20L560.81 204.30L558.71 202.20Z" fill="#f4f4f4" stroke="#7e7e7e" stroke-width="0.9"/>
<path d="M570.03 186.20L572.13 188.30L570.03 190.40L567.93 188.30Z" fill="#f4f4f4" stroke="#7e7e7e" stroke-width="0.9"/>
<path d="M579.24 194.90L581.34 197.00L579.24 199.10L577.14 197.00Z" fill="#f4f4f4" stroke="#7e7e7e" stroke-width="0.9"/>
<path d="M588.46 204.40L590.56 206.50L588.46 208.60L586.36 206.50Z" fill="#f4f4f4" stroke="#7e7e7e" stroke-width="0.9"/>
<path d="M597.67 205.30L599.77 207.40L597.67 209.50L595.57 207.40Z" fill="#f4f4f4" stroke="#7e7e7e" stroke-width="0.9"/>
<path d="M606.89 190.50L608.99 192.60L606.89 194.70L604.79 192.60Z" fill="#f4f4f4" stroke="#7e7e7e" stroke-width="0.9"/>
<path d="M63.11 297.20L65.31 299.40L63.11 301.60L60.91 299.40Z" fill="#9a9a9a" stroke="#555" stroke-width="0.9"/>
<path d="M72.33 298.90L74.53 301.10L72.33 303.30L70.12 301.10Z" fill="#9a9a9a" stroke="#555" stroke-width="0.9"/>
<path d="M81.54 297.20L83.74 299.40L81.54 301.60L79.34 299.40Z" fill="#9a9a9a" stroke="#555" stroke-width="0.9"/>
<path d="M90.76 297.60L92.96 299.80L90.76 302.00L88.56 299.80Z" fill="#9a9a9a" stroke="#555" stroke-width="0.9"/>
<path d="M99.97 297.60L102.17 299.80L99.97 302.00L97.77 299.80Z" fill="#9a9a9a" stroke="#555" stroke-width="0.9"/>
<path d="M109.19 297.20L111.39 299.40L109.19 301.60L106.99 299.40Z" fill="#9a9a9a" stroke="#555" stroke-width="0.9"/>
<path d="M118.41 296.70L120.61 298.90L118.41 301.10L116.21 298.90Z" fill="#9a9a9a" stroke="#555" stroke-width="0.9"/>
<path d="M127.62 296.30L129.82 298.50L127.62 300.70L125.42 298.50Z" fill="#9a9a9a" stroke="#555" stroke-width="0.9"/>
<path d="M136.84 297.10L139.04 299.30L136.84 301.50L134.64 299.30Z" fill="#9a9a9a" stroke="#555" stroke-width="0.9"/>
<path d="M146.06 296.30L148.26 298.50L146.06 300.70L143.86 298.50Z" fill="#9a9a9a" stroke="#555" stroke-width="0.9"/>
<path d="M155.28 295.60L157.47 297.80L155.28 300.00L153.08 297.80Z" fill="#9a9a9a" stroke="#555" stroke-width="0.9"/>
<path d="M164.49 295.40L166.69 297.60L164.49 299.80L162.29 297.60Z" fill="#9a9a9a" stroke="#555" stroke-width="0.9"/>
<path d="M173.71 289.70L175.91 291.90L173.71 294.10L171.51 291.90Z" fill="#9a9a9a" stroke="#555" stroke-width="0.9"/>
<path d="M182.93 296.80L185.12 299.00L182.93 301.20L180.73 299.00Z" fill="#9a9a9a" stroke="#555" stroke-width="0.9"/>
<path d="M192.14 293.80L194.34 296.00L192.14 298.20L189.94 296.00Z" fill="#9a9a9a" stroke="#555" stroke-width="0.9"/>
<path d="M201.36 294.80L203.56 297.00L201.36 299.20L199.16 297.00Z" fill="#9a9a9a" stroke="#555" stroke-width="0.9"/>
<path d="M210.57 293.80L212.77 296.00L210.57 298.20L208.38 296.00Z" fill="#9a9a9a" stroke="#555" stroke-width="0.9"/>
<path d="M219.79 296.80L221.99 299.00L219.79 301.20L217.59 299.00Z" fill="#9a9a9a" stroke="#555" stroke-width="0.9"/>
<path d="M229.01 294.30L231.21 296.50L229.01 298.70L226.81 296.50Z" fill="#9a9a9a" stroke="#555" stroke-width="0.9"/>
<path d="M238.22 293.80L240.42 296.00L238.22 298.20L236.03 296.00Z" fill="#9a9a9a" stroke="#555" stroke-width="0.9"/>
<path d="M247.44 295.60L249.64 297.80L247.44 300.00L245.24 297.80Z" fill="#9a9a9a" stroke="#555" stroke-width="0.9"/>
<path d="M256.66 294.80L258.86 297.00L256.66 299.20L254.46 297.00Z" fill="#9a9a9a" stroke="#555" stroke-width="0.9"/>
<path d="M265.88 294.80L268.07 297.00L265.88 299.20L263.68 297.00Z" fill="#9a9a9a" stroke="#555" stroke-width="0.9"/>
<path d="M275.09 294.80L277.29 297.00L275.09 299.20L272.89 297.00Z" fill="#9a9a9a" stroke="#555" stroke-width="0.9"/>
<path d="M284.31 293.80L286.51 296.00L284.31 298.20L282.11 296.00Z" fill="#9a9a9a" stroke="#555" stroke-width="0.9"/>
<path d="M293.52 295.90L295.72 298.10L293.52 300.30L291.32 298.10Z" fill="#9a9a9a" stroke="#555" stroke-width="0.9"/>
<path d="M302.74 293.00L304.94 295.20L302.74 297.40L300.54 295.20Z" fill="#9a9a9a" stroke="#555" stroke-width="0.9"/>
<path d="M311.96 293.80L314.16 296.00L311.96 298.20L309.76 296.00Z" fill="#9a9a9a" stroke="#555" stroke-width="0.9"/>
<path d="M321.18 291.80L323.38 294.00L321.18 296.20L318.98 294.00Z" fill="#9a9a9a" stroke="#555" stroke-width="0.9"/>
<path d="M330.39 295.10L332.59 297.30L330.39 299.50L328.19 297.30Z" fill="#9a9a9a" stroke="#555" stroke-width="0.9"/>
<path d="M339.61 290.20L341.81 292.40L339.61 294.60L337.41 292.40Z" fill="#9a9a9a" stroke="#555" stroke-width="0.9"/>
<path d="M348.82 293.50L351.02 295.70L348.82 297.90L346.62 295.70Z" fill="#9a9a9a" stroke="#555" stroke-width="0.9"/>
<path d="M358.04 291.00L360.24 293.20L358.04 295.40L355.84 293.20Z" fill="#9a9a9a" stroke="#555" stroke-width="0.9"/>
<path d="M367.26 290.70L369.46 292.90L367.26 295.10L365.06 292.90Z" fill="#9a9a9a" stroke="#555" stroke-width="0.9"/>
<path d="M376.48 291.80L378.68 294.00L376.48 296.20L374.28 294.00Z" fill="#9a9a9a" stroke="#555" stroke-width="0.9"/>
<path d="M385.69 290.70L387.89 292.90L385.69 295.10L383.49 292.90Z" fill="#9a9a9a" stroke="#555" stroke-width="0.9"/>
<path d="M394.91 290.70L397.11 292.90L394.91 295.10L392.71 292.90Z" fill="#9a9a9a" stroke="#555" stroke-width="0.9"/>
<path d="M404.12 294.80L406.32 297.00L404.12 299.20L401.93 297.00Z" fill="#9a9a9a" stroke="#555" stroke-width="0.9"/>
<path d="M413.34 291.50L415.54 293.70L413.34 295.90L411.14 293.70Z" fill="#9a9a9a" stroke="#555" stroke-width="0.9"/>
<path d="M422.56 292.60L424.76 294.80L422.56 297.00L420.36 294.80Z" fill="#9a9a9a" stroke="#555" stroke-width="0.9"/>
<path d="M431.77 293.80L433.97 296.00L431.77 298.20L429.57 296.00Z" fill="#9a9a9a" stroke="#555" stroke-width="0.9"/>
<path d="M440.99 299.70L443.19 301.90L440.99 304.10L438.79 301.90Z" fill="#9a9a9a" stroke="#555" stroke-width="0.9"/>
<path d="M450.21 293.10L452.41 295.30L450.21 297.50L448.01 295.30Z" fill="#9a9a9a" stroke="#555" stroke-width="0.9"/>
<path d="M459.43 295.10L461.62 297.30L459.43 299.50L457.23 297.30Z" fill="#9a9a9a" stroke="#555" stroke-width="0.9"/>
<path d="M468.64 294.30L470.84 296.50L468.64 298.70L466.44 296.50Z" fill="#9a9a9a" stroke="#555" stroke-width="0.9"/>
<path d="M477.86 293.10L480.06 295.30L477.86 297.50L475.66 295.30Z" fill="#9a9a9a" stroke="#555" stroke-width="0.9"/>
<path d="M487.07 290.50L489.27 292.70L487.07 294.90L484.88 292.70Z" fill="#9a9a9a" stroke="#555" stroke-width="0.9"/>
<path d="M496.29 295.10L498.49 297.30L496.29 299.50L494.09 297.30Z" fill="#9a9a9a" stroke="#555" stroke-width="0.9"/>
<path d="M505.51 292.20L507.71 294.40L505.51 296.60L503.31 294.40Z" fill="#9a9a9a" stroke="#555" stroke-width="0.9"/>
<path d="M514.73 294.50L516.93 296.70L514.73 298.90L512.52 296.70Z" fill="#9a9a9a" stroke="#555" stroke-width="0.9"/>
<path d="M523.94 294.50L526.14 296.70L523.94 298.90L521.74 296.70Z" fill="#9a9a9a" stroke="#555" stroke-width="0.9"/>
<path d="M533.16 298.30L535.36 300.50L533.16 302.70L530.96 300.50Z" fill="#9a9a9a" stroke="#555" stroke-width="0.9"/>
<path d="M542.38 295.00L544.58 297.20L542.38 299.40L540.17 297.20Z" fill="#9a9a9a" stroke="#555" stroke-width="0.9"/>
<path d="M551.59 294.20L553.79 296.40L551.59 298.60L549.39 296.40Z" fill="#9a9a9a" stroke="#555" stroke-width="0.9"/>
<path d="M560.81 293.80L563.01 296.00L560.81 298.20L558.61 296.00Z" fill="#9a9a9a" stroke="#555" stroke-width="0.9"/>
<path d="M570.03 292.50L572.23 294.70L570.03 296.90L567.83 294.70Z" fill="#9a9a9a" stroke="#555" stroke-width="0.9"/>
<path d="M579.24 289.70L581.44 291.90L579.24 294.10L577.04 291.90Z" fill="#9a9a9a" stroke="#555" stroke-width="0.9"/>
<path d="M588.46 273.10L590.66 275.30L588.46 277.50L586.26 275.30Z" fill="#9a9a9a" stroke="#555" stroke-width="0.9"/>
<path d="M597.67 289.70L599.88 291.90L597.67 294.10L595.47 291.90Z" fill="#9a9a9a" stroke="#555" stroke-width="0.9"/>
<path d="M606.89 298.80L609.09 301.00L606.89 303.20L604.69 301.00Z" fill="#9a9a9a" stroke="#555" stroke-width="0.9"/>
<circle cx="63.11" cy="178.70" r="2.30" fill="#f6f6f6" stroke="#a4a4a4" stroke-width="0.9"/>
<circle cx="72.33" cy="188.80" r="2.30" fill="#f6f6f6" stroke="#a4a4a4" stroke-width="0.9"/>
<circle cx="81.54" cy="175.20" r="2.30" fill="#f6f6f6" stroke="#a4a4a4" stroke-width="0.9"/>
<circle cx="90.76" cy="202.20" r="2.30" fill="#f6f6f6" stroke="#a4a4a4" stroke-width="0.9"/>
<circle cx="99.97" cy="197.50" r="2.30" fill="#f6f6f6" stroke="#a4a4a4" stroke-width="0.9"/>
<circle cx="109.19" cy="198.20" r="2.30" fill="#f6f6f6" stroke="#a4a4a4" stroke-width="0.9"/>
<circle cx="118.41" cy="198.70" r="2.30" fill="#f6f6f6" stroke="#a4a4a4" stroke-width="0.9"/>
<circle cx="127.62" cy="190.50" r="2.30" fill="#f6f6f6" stroke="#a4a4a4" stroke-width="0.9"/>
<circle cx="136.84" cy="197.30" r="2.30" fill="#f6f6f6" stroke="#a4a4a4" stroke-width="0.9"/>
<circle cx="146.06" cy="192.30" r="2.30" fill="#f6f6f6" stroke="#a4a4a4" stroke-width="0.9"/>
<circle cx="155.28" cy="193.10" r="2.30" fill="#f6f6f6" stroke="#a4a4a4" stroke-width="0.9"/>
<circle cx="164.49" cy="184.80" r="2.30" fill="#f6f6f6" stroke="#a4a4a4" stroke-width="0.9"/>
<circle cx="173.71" cy="190.00" r="2.30" fill="#f6f6f6" stroke="#a4a4a4" stroke-width="0.9"/>
<circle cx="182.93" cy="201.70" r="2.30" fill="#f6f6f6" stroke="#a4a4a4" stroke-width="0.9"/>
<circle cx="192.14" cy="187.00" r="2.30" fill="#f6f6f6" stroke="#a4a4a4" stroke-width="0.9"/>
<circle cx="201.36" cy="193.00" r="2.30" fill="#f6f6f6" stroke="#a4a4a4" stroke-width="0.9"/>
<circle cx="210.57" cy="188.80" r="2.30" fill="#f6f6f6" stroke="#a4a4a4" stroke-width="0.9"/>
<circle cx="219.79" cy="188.30" r="2.30" fill="#f6f6f6" stroke="#a4a4a4" stroke-width="0.9"/>
<circle cx="229.01" cy="188.30" r="2.30" fill="#f6f6f6" stroke="#a4a4a4" stroke-width="0.9"/>
<circle cx="238.22" cy="200.10" r="2.30" fill="#f6f6f6" stroke="#a4a4a4" stroke-width="0.9"/>
<circle cx="247.44" cy="197.50" r="2.30" fill="#f6f6f6" stroke="#a4a4a4" stroke-width="0.9"/>
<circle cx="256.66" cy="197.50" r="2.30" fill="#f6f6f6" stroke="#a4a4a4" stroke-width="0.9"/>
<circle cx="265.88" cy="205.70" r="2.30" fill="#f6f6f6" stroke="#a4a4a4" stroke-width="0.9"/>
<circle cx="275.09" cy="201.70" r="2.30" fill="#f6f6f6" stroke="#a4a4a4" stroke-width="0.9"/>
<circle cx="284.31" cy="197.20" r="2.30" fill="#f6f6f6" stroke="#a4a4a4" stroke-width="0.9"/>
<circle cx="293.52" cy="212.10" r="2.30" fill="#f6f6f6" stroke="#a4a4a4" stroke-width="0.9"/>
<circle cx="302.74" cy="202.90" r="2.30" fill="#f6f6f6" stroke="#a4a4a4" stroke-width="0.9"/>
<circle cx="311.96" cy="203.80" r="2.30" fill="#f6f6f6" stroke="#a4a4a4" stroke-width="0.9"/>
<circle cx="321.18" cy="197.60" r="2.30" fill="#f6f6f6" stroke="#a4a4a4" stroke-width="0.9"/>
<circle cx="330.39" cy="206.30" r="2.30" fill="#f6f6f6" stroke="#a4a4a4" stroke-width="0.9"/>
<circle cx="339.61" cy="182.50" r="2.30" fill="#f6f6f6" stroke="#a4a4a4" stroke-width="0.9"/>
<circle cx="348.82" cy="187.40" r="2.30" fill="#f6f6f6" stroke="#a4a4a4" stroke-width="0.9"/>
<circle cx="358.04" cy="206.60" r="2.30" fill="#f6f6f6" stroke="#a4a4a4" stroke-width="0.9"/>
<circle cx="367.26" cy="203.90" r="2.30" fill="#f6f6f6" stroke="#a4a4a4" stroke-width="0.9"/>
<circle cx="376.48" cy="201.10" r="2.30" fill="#f6f6f6" stroke="#a4a4a4" stroke-width="0.9"/>
<circle cx="385.69" cy="200.60" r="2.30" fill="#f6f6f6" stroke="#a4a4a4" stroke-width="0.9"/>
<circle cx="394.91" cy="206.00" r="2.30" fill="#f6f6f6" stroke="#a4a4a4" stroke-width="0.9"/>
<circle cx="404.12" cy="213.20" r="2.30" fill="#f6f6f6" stroke="#a4a4a4" stroke-width="0.9"/>
<circle cx="413.34" cy="214.10" r="2.30" fill="#f6f6f6" stroke="#a4a4a4" stroke-width="0.9"/>
<circle cx="422.56" cy="217.10" r="2.30" fill="#f6f6f6" stroke="#a4a4a4" stroke-width="0.9"/>
<circle cx="431.77" cy="207.00" r="2.30" fill="#f6f6f6" stroke="#a4a4a4" stroke-width="0.9"/>
<circle cx="440.99" cy="200.70" r="2.30" fill="#f6f6f6" stroke="#a4a4a4" stroke-width="0.9"/>
<circle cx="450.21" cy="191.70" r="2.30" fill="#f6f6f6" stroke="#a4a4a4" stroke-width="0.9"/>
<circle cx="459.43" cy="193.10" r="2.30" fill="#f6f6f6" stroke="#a4a4a4" stroke-width="0.9"/>
<circle cx="468.64" cy="202.70" r="2.30" fill="#f6f6f6" stroke="#a4a4a4" stroke-width="0.9"/>
<circle cx="477.86" cy="202.20" r="2.30" fill="#f6f6f6" stroke="#a4a4a4" stroke-width="0.9"/>
<circle cx="487.07" cy="204.80" r="2.30" fill="#f6f6f6" stroke="#a4a4a4" stroke-width="0.9"/>
<circle cx="496.29" cy="202.20" r="2.30" fill="#f6f6f6" stroke="#a4a4a4" stroke-width="0.9"/>
<circle cx="505.51" cy="199.60" r="2.30" fill="#f6f6f6" stroke="#a4a4a4" stroke-width="0.9"/>
<circle cx="514.73" cy="206.10" r="2.30" fill="#f6f6f6" stroke="#a4a4a4" stroke-width="0.9"/>
<circle cx="523.94" cy="202.90" r="2.30" fill="#f6f6f6" stroke="#a4a4a4" stroke-width="0.9"/>
<circle cx="533.16" cy="224.70" r="2.30" fill="#f6f6f6" stroke="#a4a4a4" stroke-width="0.9"/>
<circle cx="542.38" cy="216.20" r="2.30" fill="#f6f6f6" stroke="#a4a4a4" stroke-width="0.9"/>
<circle cx="551.59" cy="189.20" r="2.30" fill="#f6f6f6" stroke="#a4a4a4" stroke-width="0.9"/>
<circle cx="560.81" cy="192.60" r="2.30" fill="#f6f6f6" stroke="#a4a4a4" stroke-width="0.9"/>
<circle cx="570.03" cy="199.60" r="2.30" fill="#f6f6f6" stroke="#a4a4a4" stroke-width="0.9"/>
<circle cx="579.24" cy="204.40" r="2.30" fill="#f6f6f6" stroke="#a4a4a4" stroke-width="0.9"/>
<circle cx="588.46" cy="201.80" r="2.30" fill="#f6f6f6" stroke="#a4a4a4" stroke-width="0.9"/>
<circle cx="597.67" cy="201.30" r="2.30" fill="#f6f6f6" stroke="#a4a4a4" stroke-width="0.9"/>
<circle cx="606.89" cy="189.10" r="2.30" fill="#f6f6f6" stroke="#a4a4a4" stroke-width="0.9"/>
<circle cx="63.11" cy="295.20" r="2.25" fill="#1e1e1e" stroke="#1a1a1a" stroke-width="0.8"/>
<circle cx="72.33" cy="293.70" r="2.25" fill="#1e1e1e" stroke="#1a1a1a" stroke-width="0.8"/>
<circle cx="81.54" cy="294.00" r="2.25" fill="#1e1e1e" stroke="#1a1a1a" stroke-width="0.8"/>
<circle cx="90.76" cy="294.00" r="2.25" fill="#1e1e1e" stroke="#1a1a1a" stroke-width="0.8"/>
<circle cx="99.97" cy="292.40" r="2.25" fill="#1e1e1e" stroke="#1a1a1a" stroke-width="0.8"/>
<circle cx="109.19" cy="292.70" r="2.25" fill="#1e1e1e" stroke="#1a1a1a" stroke-width="0.8"/>
<circle cx="118.41" cy="293.20" r="2.25" fill="#1e1e1e" stroke="#1a1a1a" stroke-width="0.8"/>
<circle cx="127.62" cy="293.20" r="2.25" fill="#1e1e1e" stroke="#1a1a1a" stroke-width="0.8"/>
<circle cx="136.84" cy="292.90" r="2.25" fill="#1e1e1e" stroke="#1a1a1a" stroke-width="0.8"/>
<circle cx="146.06" cy="292.90" r="2.25" fill="#1e1e1e" stroke="#1a1a1a" stroke-width="0.8"/>
<circle cx="155.28" cy="293.70" r="2.25" fill="#1e1e1e" stroke="#1a1a1a" stroke-width="0.8"/>
<circle cx="164.49" cy="293.20" r="2.25" fill="#1e1e1e" stroke="#1a1a1a" stroke-width="0.8"/>
<circle cx="173.71" cy="299.30" r="2.25" fill="#1e1e1e" stroke="#1a1a1a" stroke-width="0.8"/>
<circle cx="182.93" cy="299.30" r="2.25" fill="#1e1e1e" stroke="#1a1a1a" stroke-width="0.8"/>
<circle cx="192.14" cy="299.30" r="2.25" fill="#1e1e1e" stroke="#1a1a1a" stroke-width="0.8"/>
<circle cx="201.36" cy="301.90" r="2.25" fill="#1e1e1e" stroke="#1a1a1a" stroke-width="0.8"/>
<circle cx="210.57" cy="300.60" r="2.25" fill="#1e1e1e" stroke="#1a1a1a" stroke-width="0.8"/>
<circle cx="219.79" cy="300.30" r="2.25" fill="#1e1e1e" stroke="#1a1a1a" stroke-width="0.8"/>
<circle cx="229.01" cy="300.30" r="2.25" fill="#1e1e1e" stroke="#1a1a1a" stroke-width="0.8"/>
<circle cx="238.22" cy="299.80" r="2.25" fill="#1e1e1e" stroke="#1a1a1a" stroke-width="0.8"/>
<circle cx="247.44" cy="300.30" r="2.25" fill="#1e1e1e" stroke="#1a1a1a" stroke-width="0.8"/>
<circle cx="256.66" cy="299.80" r="2.25" fill="#1e1e1e" stroke="#1a1a1a" stroke-width="0.8"/>
<circle cx="265.88" cy="300.30" r="2.25" fill="#1e1e1e" stroke="#1a1a1a" stroke-width="0.8"/>
<circle cx="275.09" cy="293.20" r="2.25" fill="#1e1e1e" stroke="#1a1a1a" stroke-width="0.8"/>
<circle cx="284.31" cy="300.10" r="2.25" fill="#1e1e1e" stroke="#1a1a1a" stroke-width="0.8"/>
<circle cx="293.52" cy="303.90" r="2.25" fill="#1e1e1e" stroke="#1a1a1a" stroke-width="0.8"/>
<circle cx="302.74" cy="300.60" r="2.25" fill="#1e1e1e" stroke="#1a1a1a" stroke-width="0.8"/>
<circle cx="311.96" cy="299.40" r="2.25" fill="#1e1e1e" stroke="#1a1a1a" stroke-width="0.8"/>
<circle cx="321.18" cy="298.90" r="2.25" fill="#1e1e1e" stroke="#1a1a1a" stroke-width="0.8"/>
<circle cx="330.39" cy="291.90" r="2.25" fill="#1e1e1e" stroke="#1a1a1a" stroke-width="0.8"/>
<circle cx="339.61" cy="297.80" r="2.25" fill="#1e1e1e" stroke="#1a1a1a" stroke-width="0.8"/>
<circle cx="348.82" cy="304.70" r="2.25" fill="#1e1e1e" stroke="#1a1a1a" stroke-width="0.8"/>
<circle cx="358.04" cy="299.40" r="2.25" fill="#1e1e1e" stroke="#1a1a1a" stroke-width="0.8"/>
<circle cx="367.26" cy="298.50" r="2.25" fill="#1e1e1e" stroke="#1a1a1a" stroke-width="0.8"/>
<circle cx="376.48" cy="299.80" r="2.25" fill="#1e1e1e" stroke="#1a1a1a" stroke-width="0.8"/>
<circle cx="385.69" cy="299.30" r="2.25" fill="#1e1e1e" stroke="#1a1a1a" stroke-width="0.8"/>
<circle cx="394.91" cy="299.80" r="2.25" fill="#1e1e1e" stroke="#1a1a1a" stroke-width="0.8"/>
<circle cx="404.12" cy="301.40" r="2.25" fill="#1e1e1e" stroke="#1a1a1a" stroke-width="0.8"/>
<circle cx="413.34" cy="300.60" r="2.25" fill="#1e1e1e" stroke="#1a1a1a" stroke-width="0.8"/>
<circle cx="422.56" cy="300.10" r="2.25" fill="#1e1e1e" stroke="#1a1a1a" stroke-width="0.8"/>
<circle cx="431.77" cy="298.90" r="2.25" fill="#1e1e1e" stroke="#1a1a1a" stroke-width="0.8"/>
<circle cx="440.99" cy="300.10" r="2.25" fill="#1e1e1e" stroke="#1a1a1a" stroke-width="0.8"/>
<circle cx="450.21" cy="295.30" r="2.25" fill="#1e1e1e" stroke="#1a1a1a" stroke-width="0.8"/>
<circle cx="459.43" cy="297.60" r="2.25" fill="#1e1e1e" stroke="#1a1a1a" stroke-width="0.8"/>
<circle cx="468.64" cy="298.90" r="2.25" fill="#1e1e1e" stroke="#1a1a1a" stroke-width="0.8"/>
<circle cx="477.86" cy="297.80" r="2.25" fill="#1e1e1e" stroke="#1a1a1a" stroke-width="0.8"/>
<circle cx="487.07" cy="299.80" r="2.25" fill="#1e1e1e" stroke="#1a1a1a" stroke-width="0.8"/>
<circle cx="496.29" cy="298.60" r="2.25" fill="#1e1e1e" stroke="#1a1a1a" stroke-width="0.8"/>
<circle cx="505.51" cy="299.70" r="2.25" fill="#1e1e1e" stroke="#1a1a1a" stroke-width="0.8"/>
<circle cx="514.73" cy="300.10" r="2.25" fill="#1e1e1e" stroke="#1a1a1a" stroke-width="0.8"/>
<circle cx="523.94" cy="300.10" r="2.25" fill="#1e1e1e" stroke="#1a1a1a" stroke-width="0.8"/>
<circle cx="533.16" cy="298.80" r="2.25" fill="#1e1e1e" stroke="#1a1a1a" stroke-width="0.8"/>
<circle cx="542.38" cy="296.00" r="2.25" fill="#1e1e1e" stroke="#1a1a1a" stroke-width="0.8"/>
<circle cx="551.59" cy="296.00" r="2.25" fill="#1e1e1e" stroke="#1a1a1a" stroke-width="0.8"/>
<circle cx="560.81" cy="296.00" r="2.25" fill="#1e1e1e" stroke="#1a1a1a" stroke-width="0.8"/>
<circle cx="570.03" cy="298.80" r="2.25" fill="#1e1e1e" stroke="#1a1a1a" stroke-width="0.8"/>
<circle cx="579.24" cy="298.00" r="2.25" fill="#1e1e1e" stroke="#1a1a1a" stroke-width="0.8"/>
<circle cx="588.46" cy="298.00" r="2.25" fill="#1e1e1e" stroke="#1a1a1a" stroke-width="0.8"/>
<circle cx="597.67" cy="298.30" r="2.25" fill="#1e1e1e" stroke="#1a1a1a" stroke-width="0.8"/>
<circle cx="606.89" cy="298.30" r="2.25" fill="#1e1e1e" stroke="#1a1a1a" stroke-width="0.8"/>
<path d="M63.11 77.35L65.46 79.70L63.11 82.05L60.76 79.70Z" fill="#fff" stroke="#222" stroke-width="0.9"/>
<path d="M72.33 73.25L74.67 75.60L72.33 77.95L69.98 75.60Z" fill="#fff" stroke="#222" stroke-width="0.9"/>
<path d="M81.54 73.35L83.89 75.70L81.54 78.05L79.19 75.70Z" fill="#fff" stroke="#222" stroke-width="0.9"/>
<path d="M90.76 112.95L93.11 115.30L90.76 117.65L88.41 115.30Z" fill="#fff" stroke="#222" stroke-width="0.9"/>
<path d="M99.97 99.95L102.32 102.30L99.97 104.65L97.62 102.30Z" fill="#fff" stroke="#222" stroke-width="0.9"/>
<path d="M109.19 88.65L111.54 91.00L109.19 93.35L106.84 91.00Z" fill="#fff" stroke="#222" stroke-width="0.9"/>
<path d="M118.41 77.15L120.76 79.50L118.41 81.85L116.06 79.50Z" fill="#fff" stroke="#222" stroke-width="0.9"/>
<path d="M127.62 99.05L129.97 101.40L127.62 103.75L125.28 101.40Z" fill="#fff" stroke="#222" stroke-width="0.9"/>
<path d="M136.84 91.35L139.19 93.70L136.84 96.05L134.49 93.70Z" fill="#fff" stroke="#222" stroke-width="0.9"/>
<path d="M146.06 94.85L148.41 97.20L146.06 99.55L143.71 97.20Z" fill="#fff" stroke="#222" stroke-width="0.9"/>
<path d="M155.28 108.15L157.62 110.50L155.28 112.85L152.93 110.50Z" fill="#fff" stroke="#222" stroke-width="0.9"/>
<path d="M164.49 58.45L166.84 60.80L164.49 63.15L162.14 60.80Z" fill="#fff" stroke="#222" stroke-width="0.9"/>
<path d="M173.71 110.05L176.06 112.40L173.71 114.75L171.36 112.40Z" fill="#fff" stroke="#222" stroke-width="0.9"/>
<path d="M182.93 134.65L185.28 137.00L182.93 139.35L180.58 137.00Z" fill="#fff" stroke="#222" stroke-width="0.9"/>
<path d="M192.14 133.55L194.49 135.90L192.14 138.25L189.79 135.90Z" fill="#fff" stroke="#222" stroke-width="0.9"/>
<path d="M201.36 142.65L203.71 145.00L201.36 147.35L199.01 145.00Z" fill="#fff" stroke="#222" stroke-width="0.9"/>
<path d="M210.57 123.25L212.92 125.60L210.57 127.95L208.22 125.60Z" fill="#fff" stroke="#222" stroke-width="0.9"/>
<path d="M219.79 120.75L222.14 123.10L219.79 125.45L217.44 123.10Z" fill="#fff" stroke="#222" stroke-width="0.9"/>
<path d="M229.01 141.35L231.36 143.70L229.01 146.05L226.66 143.70Z" fill="#fff" stroke="#222" stroke-width="0.9"/>
<path d="M238.22 141.65L240.57 144.00L238.22 146.35L235.88 144.00Z" fill="#fff" stroke="#222" stroke-width="0.9"/>
<path d="M247.44 135.35L249.79 137.70L247.44 140.05L245.09 137.70Z" fill="#fff" stroke="#222" stroke-width="0.9"/>
<path d="M256.66 134.35L259.01 136.70L256.66 139.05L254.31 136.70Z" fill="#fff" stroke="#222" stroke-width="0.9"/>
<path d="M265.88 143.95L268.23 146.30L265.88 148.65L263.52 146.30Z" fill="#fff" stroke="#222" stroke-width="0.9"/>
<path d="M275.09 107.45L277.44 109.80L275.09 112.15L272.74 109.80Z" fill="#fff" stroke="#222" stroke-width="0.9"/>
<path d="M284.31 124.85L286.66 127.20L284.31 129.55L281.96 127.20Z" fill="#fff" stroke="#222" stroke-width="0.9"/>
<path d="M293.52 138.75L295.88 141.10L293.52 143.45L291.17 141.10Z" fill="#fff" stroke="#222" stroke-width="0.9"/>
<path d="M302.74 125.35L305.09 127.70L302.74 130.05L300.39 127.70Z" fill="#fff" stroke="#222" stroke-width="0.9"/>
<path d="M311.96 129.15L314.31 131.50L311.96 133.85L309.61 131.50Z" fill="#fff" stroke="#222" stroke-width="0.9"/>
<path d="M321.18 103.15L323.53 105.50L321.18 107.85L318.82 105.50Z" fill="#fff" stroke="#222" stroke-width="0.9"/>
<path d="M330.39 99.25L332.74 101.60L330.39 103.95L328.04 101.60Z" fill="#fff" stroke="#222" stroke-width="0.9"/>
<path d="M339.61 98.75L341.96 101.10L339.61 103.45L337.26 101.10Z" fill="#fff" stroke="#222" stroke-width="0.9"/>
<path d="M348.82 104.95L351.18 107.30L348.82 109.65L346.47 107.30Z" fill="#fff" stroke="#222" stroke-width="0.9"/>
<path d="M358.04 112.15L360.39 114.50L358.04 116.85L355.69 114.50Z" fill="#fff" stroke="#222" stroke-width="0.9"/>
<path d="M367.26 107.95L369.61 110.30L367.26 112.65L364.91 110.30Z" fill="#fff" stroke="#222" stroke-width="0.9"/>
<path d="M376.48 110.55L378.83 112.90L376.48 115.25L374.12 112.90Z" fill="#fff" stroke="#222" stroke-width="0.9"/>
<path d="M385.69 95.45L388.04 97.80L385.69 100.15L383.34 97.80Z" fill="#fff" stroke="#222" stroke-width="0.9"/>
<path d="M394.91 98.65L397.26 101.00L394.91 103.35L392.56 101.00Z" fill="#fff" stroke="#222" stroke-width="0.9"/>
<path d="M404.12 117.95L406.48 120.30L404.12 122.65L401.77 120.30Z" fill="#fff" stroke="#222" stroke-width="0.9"/>
<path d="M413.34 104.35L415.69 106.70L413.34 109.05L410.99 106.70Z" fill="#fff" stroke="#222" stroke-width="0.9"/>
<path d="M422.56 109.65L424.91 112.00L422.56 114.35L420.21 112.00Z" fill="#fff" stroke="#222" stroke-width="0.9"/>
<path d="M431.77 99.55L434.12 101.90L431.77 104.25L429.42 101.90Z" fill="#fff" stroke="#222" stroke-width="0.9"/>
<path d="M440.99 94.45L443.34 96.80L440.99 99.15L438.64 96.80Z" fill="#fff" stroke="#222" stroke-width="0.9"/>
<path d="M450.21 98.65L452.56 101.00L450.21 103.35L447.86 101.00Z" fill="#fff" stroke="#222" stroke-width="0.9"/>
<path d="M459.43 118.45L461.78 120.80L459.43 123.15L457.07 120.80Z" fill="#fff" stroke="#222" stroke-width="0.9"/>
<path d="M468.64 123.45L470.99 125.80L468.64 128.15L466.29 125.80Z" fill="#fff" stroke="#222" stroke-width="0.9"/>
<path d="M477.86 107.15L480.21 109.50L477.86 111.85L475.51 109.50Z" fill="#fff" stroke="#222" stroke-width="0.9"/>
<path d="M487.07 127.65L489.43 130.00L487.07 132.35L484.72 130.00Z" fill="#fff" stroke="#222" stroke-width="0.9"/>
<path d="M496.29 148.05L498.64 150.40L496.29 152.75L493.94 150.40Z" fill="#fff" stroke="#222" stroke-width="0.9"/>
<path d="M505.51 106.65L507.86 109.00L505.51 111.35L503.16 109.00Z" fill="#fff" stroke="#222" stroke-width="0.9"/>
<path d="M514.73 118.05L517.08 120.40L514.73 122.75L512.38 120.40Z" fill="#fff" stroke="#222" stroke-width="0.9"/>
<path d="M523.94 142.05L526.29 144.40L523.94 146.75L521.59 144.40Z" fill="#fff" stroke="#222" stroke-width="0.9"/>
<path d="M533.16 154.45L535.51 156.80L533.16 159.15L530.81 156.80Z" fill="#fff" stroke="#222" stroke-width="0.9"/>
<path d="M542.38 119.45L544.73 121.80L542.38 124.15L540.02 121.80Z" fill="#fff" stroke="#222" stroke-width="0.9"/>
<path d="M551.59 103.85L553.94 106.20L551.59 108.55L549.24 106.20Z" fill="#fff" stroke="#222" stroke-width="0.9"/>
<path d="M560.81 108.85L563.16 111.20L560.81 113.55L558.46 111.20Z" fill="#fff" stroke="#222" stroke-width="0.9"/>
<path d="M570.03 117.25L572.38 119.60L570.03 121.95L567.68 119.60Z" fill="#fff" stroke="#222" stroke-width="0.9"/>
<path d="M579.24 125.05L581.59 127.40L579.24 129.75L576.89 127.40Z" fill="#fff" stroke="#222" stroke-width="0.9"/>
<path d="M588.46 120.35L590.81 122.70L588.46 125.05L586.11 122.70Z" fill="#fff" stroke="#222" stroke-width="0.9"/>
<path d="M597.67 118.05L600.02 120.40L597.67 122.75L595.32 120.40Z" fill="#fff" stroke="#222" stroke-width="0.9"/>
<path d="M606.89 122.95L609.24 125.30L606.89 127.65L604.54 125.30Z" fill="#fff" stroke="#222" stroke-width="0.9"/>
<circle cx="63.11" cy="53.60" r="2.15" fill="#fff" stroke="#2a2a2a" stroke-width="0.9"/>
<circle cx="72.33" cy="76.20" r="2.15" fill="#fff" stroke="#2a2a2a" stroke-width="0.9"/>
<circle cx="81.54" cy="56.90" r="2.15" fill="#fff" stroke="#2a2a2a" stroke-width="0.9"/>
<circle cx="90.76" cy="76.10" r="2.15" fill="#fff" stroke="#2a2a2a" stroke-width="0.9"/>
<circle cx="99.97" cy="59.10" r="2.15" fill="#fff" stroke="#2a2a2a" stroke-width="0.9"/>
<circle cx="109.19" cy="92.00" r="2.15" fill="#fff" stroke="#2a2a2a" stroke-width="0.9"/>
<circle cx="118.41" cy="79.60" r="2.15" fill="#fff" stroke="#2a2a2a" stroke-width="0.9"/>
<circle cx="127.62" cy="54.30" r="2.15" fill="#fff" stroke="#2a2a2a" stroke-width="0.9"/>
<circle cx="136.84" cy="63.10" r="2.15" fill="#fff" stroke="#2a2a2a" stroke-width="0.9"/>
<circle cx="146.06" cy="69.60" r="2.15" fill="#fff" stroke="#2a2a2a" stroke-width="0.9"/>
<circle cx="155.28" cy="69.00" r="2.15" fill="#fff" stroke="#2a2a2a" stroke-width="0.9"/>
<circle cx="164.49" cy="73.20" r="2.15" fill="#fff" stroke="#2a2a2a" stroke-width="0.9"/>
<circle cx="173.71" cy="48.70" r="2.15" fill="#fff" stroke="#2a2a2a" stroke-width="0.9"/>
<circle cx="182.93" cy="90.80" r="2.15" fill="#fff" stroke="#2a2a2a" stroke-width="0.9"/>
<circle cx="192.14" cy="91.10" r="2.15" fill="#fff" stroke="#2a2a2a" stroke-width="0.9"/>
<circle cx="201.36" cy="96.70" r="2.15" fill="#fff" stroke="#2a2a2a" stroke-width="0.9"/>
<circle cx="210.57" cy="84.00" r="2.15" fill="#fff" stroke="#2a2a2a" stroke-width="0.9"/>
<circle cx="219.79" cy="90.00" r="2.15" fill="#fff" stroke="#2a2a2a" stroke-width="0.9"/>
<circle cx="229.01" cy="90.30" r="2.15" fill="#fff" stroke="#2a2a2a" stroke-width="0.9"/>
<circle cx="238.22" cy="92.40" r="2.15" fill="#fff" stroke="#2a2a2a" stroke-width="0.9"/>
<circle cx="247.44" cy="115.40" r="2.15" fill="#fff" stroke="#2a2a2a" stroke-width="0.9"/>
<circle cx="256.66" cy="107.00" r="2.15" fill="#fff" stroke="#2a2a2a" stroke-width="0.9"/>
<circle cx="265.88" cy="107.30" r="2.15" fill="#fff" stroke="#2a2a2a" stroke-width="0.9"/>
<circle cx="275.09" cy="110.20" r="2.15" fill="#fff" stroke="#2a2a2a" stroke-width="0.9"/>
<circle cx="284.31" cy="106.80" r="2.15" fill="#fff" stroke="#2a2a2a" stroke-width="0.9"/>
<circle cx="293.52" cy="113.30" r="2.15" fill="#fff" stroke="#2a2a2a" stroke-width="0.9"/>
<circle cx="302.74" cy="95.40" r="2.15" fill="#fff" stroke="#2a2a2a" stroke-width="0.9"/>
<circle cx="311.96" cy="94.30" r="2.15" fill="#fff" stroke="#2a2a2a" stroke-width="0.9"/>
<circle cx="321.18" cy="90.50" r="2.15" fill="#fff" stroke="#2a2a2a" stroke-width="0.9"/>
<circle cx="330.39" cy="101.00" r="2.15" fill="#fff" stroke="#2a2a2a" stroke-width="0.9"/>
<circle cx="339.61" cy="63.60" r="2.15" fill="#fff" stroke="#2a2a2a" stroke-width="0.9"/>
<circle cx="348.82" cy="86.20" r="2.15" fill="#fff" stroke="#2a2a2a" stroke-width="0.9"/>
<circle cx="358.04" cy="111.50" r="2.15" fill="#fff" stroke="#2a2a2a" stroke-width="0.9"/>
<circle cx="367.26" cy="99.30" r="2.15" fill="#fff" stroke="#2a2a2a" stroke-width="0.9"/>
<circle cx="376.48" cy="100.30" r="2.15" fill="#fff" stroke="#2a2a2a" stroke-width="0.9"/>
<circle cx="385.69" cy="98.00" r="2.15" fill="#fff" stroke="#2a2a2a" stroke-width="0.9"/>
<circle cx="394.91" cy="80.00" r="2.15" fill="#fff" stroke="#2a2a2a" stroke-width="0.9"/>
<circle cx="404.12" cy="113.70" r="2.15" fill="#fff" stroke="#2a2a2a" stroke-width="0.9"/>
<circle cx="413.34" cy="105.00" r="2.15" fill="#fff" stroke="#2a2a2a" stroke-width="0.9"/>
<circle cx="422.56" cy="102.90" r="2.15" fill="#fff" stroke="#2a2a2a" stroke-width="0.9"/>
<circle cx="431.77" cy="92.80" r="2.15" fill="#fff" stroke="#2a2a2a" stroke-width="0.9"/>
<circle cx="440.99" cy="84.00" r="2.15" fill="#fff" stroke="#2a2a2a" stroke-width="0.9"/>
<circle cx="450.21" cy="67.80" r="2.15" fill="#fff" stroke="#2a2a2a" stroke-width="0.9"/>
<circle cx="459.43" cy="87.60" r="2.15" fill="#fff" stroke="#2a2a2a" stroke-width="0.9"/>
<circle cx="468.64" cy="92.90" r="2.15" fill="#fff" stroke="#2a2a2a" stroke-width="0.9"/>
<circle cx="477.86" cy="83.50" r="2.15" fill="#fff" stroke="#2a2a2a" stroke-width="0.9"/>
<circle cx="487.07" cy="117.10" r="2.15" fill="#fff" stroke="#2a2a2a" stroke-width="0.9"/>
<circle cx="496.29" cy="95.80" r="2.15" fill="#fff" stroke="#2a2a2a" stroke-width="0.9"/>
<circle cx="505.51" cy="86.50" r="2.15" fill="#fff" stroke="#2a2a2a" stroke-width="0.9"/>
<circle cx="514.73" cy="111.20" r="2.15" fill="#fff" stroke="#2a2a2a" stroke-width="0.9"/>
<circle cx="523.94" cy="99.60" r="2.15" fill="#fff" stroke="#2a2a2a" stroke-width="0.9"/>
<circle cx="533.16" cy="150.00" r="2.15" fill="#fff" stroke="#2a2a2a" stroke-width="0.9"/>
<circle cx="542.38" cy="110.30" r="2.15" fill="#fff" stroke="#2a2a2a" stroke-width="0.9"/>
<circle cx="551.59" cy="98.20" r="2.15" fill="#fff" stroke="#2a2a2a" stroke-width="0.9"/>
<circle cx="560.81" cy="105.70" r="2.15" fill="#fff" stroke="#2a2a2a" stroke-width="0.9"/>
<circle cx="570.03" cy="87.00" r="2.15" fill="#fff" stroke="#2a2a2a" stroke-width="0.9"/>
<circle cx="579.24" cy="100.40" r="2.15" fill="#fff" stroke="#2a2a2a" stroke-width="0.9"/>
<circle cx="588.46" cy="108.60" r="2.15" fill="#fff" stroke="#2a2a2a" stroke-width="0.9"/>
<circle cx="597.67" cy="99.20" r="2.15" fill="#fff" stroke="#2a2a2a" stroke-width="0.9"/>
<circle cx="606.89" cy="101.80" r="2.15" fill="#fff" stroke="#2a2a2a" stroke-width="0.9"/>
<rect x="60.81" y="116.00" width="4.60" height="4.60" fill="#fff" stroke="#3a3a3a" stroke-width="0.9"/>
<rect x="70.03" y="129.40" width="4.60" height="4.60" fill="#fff" stroke="#3a3a3a" stroke-width="0.9"/>
<rect x="79.24" y="114.30" width="4.60" height="4.60" fill="#fff" stroke="#3a3a3a" stroke-width="0.9"/>
<rect x="88.46" y="120.70" width="4.60" height="4.60" fill="#fff" stroke="#3a3a3a" stroke-width="0.9"/>
<rect x="97.67" y="115.90" width="4.60" height="4.60" fill="#fff" stroke="#3a3a3a" stroke-width="0.9"/>
<rect x="106.89" y="119.00" width="4.60" height="4.60" fill="#fff" stroke="#3a3a3a" stroke-width="0.9"/>
<rect x="116.11" y="120.40" width="4.60" height="4.60" fill="#fff" stroke="#3a3a3a" stroke-width="0.9"/>
<rect x="125.33" y="104.60" width="4.60" height="4.60" fill="#fff" stroke="#3a3a3a" stroke-width="0.9"/>
<rect x="134.54" y="114.30" width="4.60" height="4.60" fill="#fff" stroke="#3a3a3a" stroke-width="0.9"/>
<rect x="143.76" y="110.80" width="4.60" height="4.60" fill="#fff" stroke="#3a3a3a" stroke-width="0.9"/>
<rect x="152.97" y="109.40" width="4.60" height="4.60" fill="#fff" stroke="#3a3a3a" stroke-width="0.9"/>
<rect x="162.19" y="110.00" width="4.60" height="4.60" fill="#fff" stroke="#3a3a3a" stroke-width="0.9"/>
<rect x="171.41" y="104.70" width="4.60" height="4.60" fill="#fff" stroke="#3a3a3a" stroke-width="0.9"/>
<rect x="180.62" y="136.20" width="4.60" height="4.60" fill="#fff" stroke="#3a3a3a" stroke-width="0.9"/>
<rect x="189.84" y="116.00" width="4.60" height="4.60" fill="#fff" stroke="#3a3a3a" stroke-width="0.9"/>
<rect x="199.06" y="128.70" width="4.60" height="4.60" fill="#fff" stroke="#3a3a3a" stroke-width="0.9"/>
<rect x="208.27" y="118.10" width="4.60" height="4.60" fill="#fff" stroke="#3a3a3a" stroke-width="0.9"/>
<rect x="217.49" y="133.10" width="4.60" height="4.60" fill="#fff" stroke="#3a3a3a" stroke-width="0.9"/>
<rect x="226.71" y="128.50" width="4.60" height="4.60" fill="#fff" stroke="#3a3a3a" stroke-width="0.9"/>
<rect x="235.92" y="124.40" width="4.60" height="4.60" fill="#fff" stroke="#3a3a3a" stroke-width="0.9"/>
<rect x="245.14" y="133.30" width="4.60" height="4.60" fill="#fff" stroke="#3a3a3a" stroke-width="0.9"/>
<rect x="254.36" y="141.00" width="4.60" height="4.60" fill="#fff" stroke="#3a3a3a" stroke-width="0.9"/>
<rect x="263.57" y="137.80" width="4.60" height="4.60" fill="#fff" stroke="#3a3a3a" stroke-width="0.9"/>
<rect x="272.79" y="129.50" width="4.60" height="4.60" fill="#fff" stroke="#3a3a3a" stroke-width="0.9"/>
<rect x="282.01" y="120.50" width="4.60" height="4.60" fill="#fff" stroke="#3a3a3a" stroke-width="0.9"/>
<rect x="291.22" y="141.90" width="4.60" height="4.60" fill="#fff" stroke="#3a3a3a" stroke-width="0.9"/>
<rect x="300.44" y="131.80" width="4.60" height="4.60" fill="#fff" stroke="#3a3a3a" stroke-width="0.9"/>
<rect x="309.66" y="134.40" width="4.60" height="4.60" fill="#fff" stroke="#3a3a3a" stroke-width="0.9"/>
<rect x="318.88" y="129.20" width="4.60" height="4.60" fill="#fff" stroke="#3a3a3a" stroke-width="0.9"/>
<rect x="328.09" y="139.70" width="4.60" height="4.60" fill="#fff" stroke="#3a3a3a" stroke-width="0.9"/>
<rect x="337.31" y="119.70" width="4.60" height="4.60" fill="#fff" stroke="#3a3a3a" stroke-width="0.9"/>
<rect x="346.52" y="128.40" width="4.60" height="4.60" fill="#fff" stroke="#3a3a3a" stroke-width="0.9"/>
<rect x="355.74" y="141.00" width="4.60" height="4.60" fill="#fff" stroke="#3a3a3a" stroke-width="0.9"/>
<rect x="364.96" y="124.90" width="4.60" height="4.60" fill="#fff" stroke="#3a3a3a" stroke-width="0.9"/>
<rect x="374.18" y="130.10" width="4.60" height="4.60" fill="#fff" stroke="#3a3a3a" stroke-width="0.9"/>
<rect x="383.39" y="126.30" width="4.60" height="4.60" fill="#fff" stroke="#3a3a3a" stroke-width="0.9"/>
<rect x="392.61" y="117.80" width="4.60" height="4.60" fill="#fff" stroke="#3a3a3a" stroke-width="0.9"/>
<rect x="401.82" y="138.90" width="4.60" height="4.60" fill="#fff" stroke="#3a3a3a" stroke-width="0.9"/>
<rect x="411.04" y="128.30" width="4.60" height="4.60" fill="#fff" stroke="#3a3a3a" stroke-width="0.9"/>
<rect x="420.26" y="127.60" width="4.60" height="4.60" fill="#fff" stroke="#3a3a3a" stroke-width="0.9"/>
<rect x="429.47" y="124.10" width="4.60" height="4.60" fill="#fff" stroke="#3a3a3a" stroke-width="0.9"/>
<rect x="438.69" y="134.50" width="4.60" height="4.60" fill="#fff" stroke="#3a3a3a" stroke-width="0.9"/>
<rect x="447.91" y="114.90" width="4.60" height="4.60" fill="#fff" stroke="#3a3a3a" stroke-width="0.9"/>
<rect x="457.12" y="122.80" width="4.60" height="4.60" fill="#fff" stroke="#3a3a3a" stroke-width="0.9"/>
<rect x="466.34" y="136.70" width="4.60" height="4.60" fill="#fff" stroke="#3a3a3a" stroke-width="0.9"/>
<rect x="475.56" y="128.20" width="4.60" height="4.60" fill="#fff" stroke="#3a3a3a" stroke-width="0.9"/>
<rect x="484.77" y="140.70" width="4.60" height="4.60" fill="#fff" stroke="#3a3a3a" stroke-width="0.9"/>
<rect x="493.99" y="140.20" width="4.60" height="4.60" fill="#fff" stroke="#3a3a3a" stroke-width="0.9"/>
<rect x="503.21" y="134.80" width="4.60" height="4.60" fill="#fff" stroke="#3a3a3a" stroke-width="0.9"/>
<rect x="512.43" y="150.10" width="4.60" height="4.60" fill="#fff" stroke="#3a3a3a" stroke-width="0.9"/>
<rect x="521.64" y="156.20" width="4.60" height="4.60" fill="#fff" stroke="#3a3a3a" stroke-width="0.9"/>
<rect x="530.86" y="186.00" width="4.60" height="4.60" fill="#fff" stroke="#3a3a3a" stroke-width="0.9"/>
<rect x="540.08" y="158.50" width="4.60" height="4.60" fill="#fff" stroke="#3a3a3a" stroke-width="0.9"/>
<rect x="549.29" y="147.70" width="4.60" height="4.60" fill="#fff" stroke="#3a3a3a" stroke-width="0.9"/>
<rect x="558.51" y="143.40" width="4.60" height="4.60" fill="#fff" stroke="#3a3a3a" stroke-width="0.9"/>
<rect x="567.73" y="150.30" width="4.60" height="4.60" fill="#fff" stroke="#3a3a3a" stroke-width="0.9"/>
<rect x="576.94" y="147.40" width="4.60" height="4.60" fill="#fff" stroke="#3a3a3a" stroke-width="0.9"/>
<rect x="586.16" y="146.00" width="4.60" height="4.60" fill="#fff" stroke="#3a3a3a" stroke-width="0.9"/>
<rect x="595.38" y="148.00" width="4.60" height="4.60" fill="#fff" stroke="#3a3a3a" stroke-width="0.9"/>
<rect x="604.59" y="142.10" width="4.60" height="4.60" fill="#fff" stroke="#3a3a3a" stroke-width="0.9"/>
<text x="49.6" y="319.90" font-size="9.6" text-anchor="end" fill="#222">0</text>
<text x="49.6" y="271.70" font-size="9.6" text-anchor="end" fill="#222">10000</text>
<text x="49.6" y="223.50" font-size="9.6" text-anchor="end" fill="#222">20000</text>
<text x="49.6" y="175.30" font-size="9.6" text-anchor="end" fill="#222">30000</text>
<text x="49.6" y="127.10" font-size="9.6" text-anchor="end" fill="#222">40000</text>
<text x="49.6" y="78.90" font-size="9.6" text-anchor="end" fill="#222">50000</text>
<text x="49.6" y="30.70" font-size="9.6" text-anchor="end" fill="#222">60000</text>
<text x="619.3" y="319.90" font-size="9.6" fill="#222">0</text>
<text x="619.3" y="290.98" font-size="9.6" fill="#222">10000</text>
<text x="619.3" y="262.06" font-size="9.6" fill="#222">20000</text>
<text x="619.3" y="233.14" font-size="9.6" fill="#222">30000</text>
<text x="619.3" y="204.22" font-size="9.6" fill="#222">40000</text>
<text x="619.3" y="175.30" font-size="9.6" fill="#222">50000</text>
<text x="619.3" y="146.38" font-size="9.6" fill="#222">60000</text>
<text x="619.3" y="117.46" font-size="9.6" fill="#222">70000</text>
<text x="619.3" y="88.54" font-size="9.6" fill="#222">80000</text>
<text x="619.3" y="59.62" font-size="9.6" fill="#222">90000</text>
<text x="619.3" y="30.70" font-size="9.6" fill="#222">100000</text>
<text x="63.11" y="331.4" font-size="9.5" text-anchor="middle" fill="#222">Jan</text>
<text x="90.76" y="331.4" font-size="9.5" text-anchor="middle" fill="#222">Apr</text>
<text x="118.41" y="331.4" font-size="9.5" text-anchor="middle" fill="#222">July</text>
<text x="146.06" y="331.4" font-size="9.5" text-anchor="middle" fill="#222">Oct</text>
<text x="173.71" y="331.4" font-size="9.5" text-anchor="middle" fill="#222">Jan</text>
<text x="201.36" y="331.4" font-size="9.5" text-anchor="middle" fill="#222">Apr</text>
<text x="229.01" y="331.4" font-size="9.5" text-anchor="middle" fill="#222">July</text>
<text x="256.66" y="331.4" font-size="9.5" text-anchor="middle" fill="#222">Oct</text>
<text x="284.31" y="331.4" font-size="9.5" text-anchor="middle" fill="#222">Jan</text>
<text x="311.96" y="331.4" font-size="9.5" text-anchor="middle" fill="#222">Apr</text>
<text x="339.61" y="331.4" font-size="9.5" text-anchor="middle" fill="#222">July</text>
<text x="367.26" y="331.4" font-size="9.5" text-anchor="middle" fill="#222">Oct</text>
<text x="394.91" y="331.4" font-size="9.5" text-anchor="middle" fill="#222">Jan</text>
<text x="422.56" y="331.4" font-size="9.5" text-anchor="middle" fill="#222">Apr</text>
<text x="450.21" y="331.4" font-size="9.5" text-anchor="middle" fill="#222">July</text>
<text x="477.86" y="331.4" font-size="9.5" text-anchor="middle" fill="#222">Oct</text>
<text x="505.51" y="331.4" font-size="9.5" text-anchor="middle" fill="#222">Jan</text>
<text x="533.16" y="331.4" font-size="9.5" text-anchor="middle" fill="#222">Apr</text>
<text x="560.81" y="331.4" font-size="9.5" text-anchor="middle" fill="#222">July</text>
<text x="588.46" y="331.4" font-size="9.5" text-anchor="middle" fill="#222">Oct</text>
<text x="117.4" y="40.4" font-size="9.8" font-weight="bold" text-anchor="middle" fill="#111">2016</text>
<text x="222.6" y="39.4" font-size="9.8" font-weight="bold" text-anchor="middle" fill="#111">2017</text>
<text x="336.0" y="38.8" font-size="9.8" font-weight="bold" text-anchor="middle" fill="#111">2018</text>
<text x="440.6" y="39.7" font-size="9.8" font-weight="bold" text-anchor="middle" fill="#111">2019</text>
<text x="561.0" y="40.0" font-size="9.8" font-weight="bold" text-anchor="middle" fill="#111">2020</text>
<text transform="translate(17.7 175.6) rotate(-90)" font-size="9.9" font-weight="bold" text-anchor="middle" fill="#111">Cumulative tonnage of MSW</text>
<text transform="translate(661.8 171.9) rotate(-90)" font-size="9.9" font-weight="bold" text-anchor="middle" fill="#111">Cumulative tonnage of MSW</text>
<line x1="61.3" y1="12.95" x2="73.6" y2="12.95" stroke="#9c9c9c" stroke-width="1.6" stroke-dasharray="4.8 1.8"/>
<line x1="85.9" y1="12.95" x2="73.6" y2="12.95" stroke="#9c9c9c" stroke-width="1.6" stroke-dasharray="4.8 1.8"/>
<rect x="71.40" y="10.75" width="4.40" height="4.40" fill="#f6f6f6" stroke="#9a9a9a" stroke-width="1.0"/>
<text x="88.0" y="16.25" font-size="9.7" fill="#222">Melaka</text>
<line x1="140.3" y1="12.95" x2="152.7" y2="12.95" stroke="#7a7a7a" stroke-width="1.6" stroke-dasharray="1.6 1.7"/>
<line x1="164.8" y1="12.95" x2="152.7" y2="12.95" stroke="#7a7a7a" stroke-width="1.6" stroke-dasharray="1.6 1.7"/>
<path d="M152.70 10.75L154.90 12.95L152.70 15.15L150.50 12.95Z" fill="#fff" stroke="#777" stroke-width="1.0"/>
<text x="167.1" y="16.25" font-size="9.7" fill="#222">N9</text>
<line x1="202.2" y1="12.95" x2="214.4" y2="12.95" stroke="#777" stroke-width="1.6" stroke-dasharray="4.4 1.8"/>
<line x1="226.6" y1="12.95" x2="214.4" y2="12.95" stroke="#777" stroke-width="1.6" stroke-dasharray="4.4 1.8"/>
<path d="M214.40 10.65L216.70 12.95L214.40 15.25L212.10 12.95Z" fill="#8a8a8a" stroke="#1a1a1a" stroke-width="1.2"/>
<text x="228.7" y="16.25" font-size="9.7" fill="#222">Putrajaya</text>
<line x1="289.1" y1="12.95" x2="301.4" y2="12.95" stroke="#a8a8a8" stroke-width="1.6" stroke-dasharray="4.6 1.9"/>
<line x1="313.3" y1="12.95" x2="301.4" y2="12.95" stroke="#a8a8a8" stroke-width="1.6" stroke-dasharray="4.6 1.9"/>
<circle cx="301.40" cy="12.95" r="2.10" fill="#f6f6f6" stroke="#a4a4a4" stroke-width="1.0"/>
<text x="315.6" y="16.25" font-size="9.7" fill="#222">Pahang</text>
<line x1="368.0" y1="12.95" x2="379.9" y2="12.95" stroke="#444" stroke-width="1.6" stroke-dasharray="3.4 1.2"/>
<line x1="392.0" y1="12.95" x2="379.9" y2="12.95" stroke="#444" stroke-width="1.6" stroke-dasharray="3.4 1.2"/>
<circle cx="379.90" cy="12.95" r="2.60" fill="#1a1a1a" stroke="#111" stroke-width="0.5"/>
<text x="394.3" y="16.25" font-size="9.7" fill="#222">Perlis</text>
<line x1="439.8" y1="12.95" x2="451.9" y2="12.95" stroke="#111" stroke-width="1.6" stroke-dasharray="1.6 1.6"/>
<line x1="464.1" y1="12.95" x2="451.9" y2="12.95" stroke="#111" stroke-width="1.6" stroke-dasharray="1.6 1.6"/>
<path d="M451.90 10.95L453.90 12.95L451.90 14.95L449.90 12.95Z" fill="#fff" stroke="#111" stroke-width="1.2"/>
<text x="466.3" y="16.25" font-size="9.7" fill="#222">Kedah</text>
<line x1="515.1" y1="12.95" x2="527.6" y2="12.95" stroke="#111" stroke-width="1.6" stroke-dasharray="4.2 1.7"/>
<line x1="538.9" y1="12.95" x2="527.6" y2="12.95" stroke="#111" stroke-width="1.6" stroke-dasharray="4.2 1.7"/>
<circle cx="527.60" cy="12.95" r="2.10" fill="#fff" stroke="#111" stroke-width="1.1"/>
<text x="541.7" y="16.25" font-size="9.7" fill="#222">Johor</text>
<line x1="586.7" y1="12.95" x2="599.0" y2="12.95" stroke="#111" stroke-width="1.6" stroke-dasharray="4.5 1.9"/>
<line x1="610.8" y1="12.95" x2="599.0" y2="12.95" stroke="#111" stroke-width="1.6" stroke-dasharray="4.5 1.9"/>
<rect x="596.80" y="10.75" width="4.40" height="4.40" fill="#f4f4f4" stroke="#222" stroke-width="1.0"/>
<text x="613.1" y="16.25" font-size="9.7" fill="#222">KL</text>
<rect x="0.55" y="2.15" width="677.0" height="342.2" fill="none" stroke="#333" stroke-width="1.3"/>
</svg></body></html>
